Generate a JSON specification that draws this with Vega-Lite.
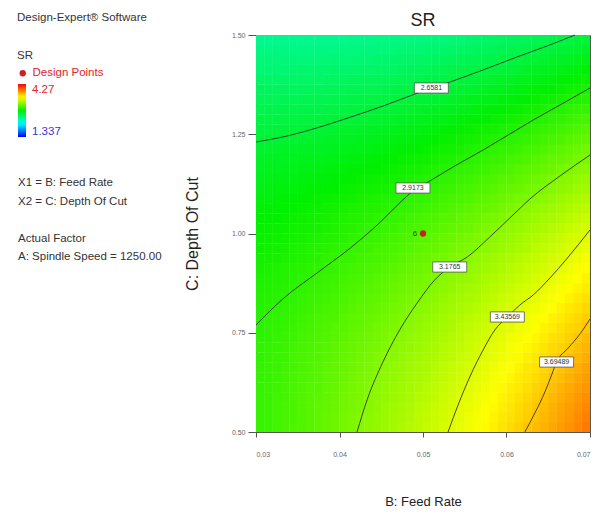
{
  "$schema": "https://vega.github.io/schema/vega-lite/v6.json",
  "width": 334,
  "height": 397,
  "autosize": {"type": "none"},
  "padding": {"left": 256, "top": 35, "right": 23, "bottom": 84},
  "background": "white",
  "config": {
    "font": "Liberation Sans",
    "view": {"stroke": "#555555", "strokeWidth": 1},
    "axis": {
      "grid": false,
      "labelFont": "Liberation Sans",
      "titleFont": "Liberation Sans",
      "labelFontSize": 7,
      "labelColor": "#666666",
      "domainColor": "#555555",
      "tickColor": "#555555",
      "titleFontWeight": "normal",
      "titleColor": "#222222"
    },
    "legend": {"padding": 0, "labelFont": "Liberation Sans", "titleFont": "Liberation Sans"}
  },
  "title": {
    "text": "SR",
    "fontSize": 18,
    "fontWeight": "normal",
    "font": "Liberation Sans",
    "color": "#222222",
    "offset": 6,
    "dy": 24,
    "anchor": "middle",
    "frame": "group"
  },
  "datasets": {
    "grid": [
{"x":0.0305,"y":0.5125,"v":2.96},{"x":0.0315,"y":0.5125,"v":2.97},{"x":0.0325,"y":0.5125,"v":2.99},{"x":0.0335,"y":0.5125,"v":3.01},{"x":0.0345,"y":0.5125,"v":3.03},{"x":0.0355,"y":0.5125,"v":3.04},{"x":0.0365,"y":0.5125,"v":3.06},{"x":0.0375,"y":0.5125,"v":3.08},{"x":0.0385,"y":0.5125,"v":3.10},{"x":0.0395,"y":0.5125,"v":3.12},{"x":0.0405,"y":0.5125,"v":3.14},{"x":0.0415,"y":0.5125,"v":3.16},{"x":0.0425,"y":0.5125,"v":3.18},{"x":0.0435,"y":0.5125,"v":3.21},{"x":0.0445,"y":0.5125,"v":3.23},{"x":0.0455,"y":0.5125,"v":3.25},{"x":0.0465,"y":0.5125,"v":3.27},{"x":0.0475,"y":0.5125,"v":3.30},{"x":0.0485,"y":0.5125,"v":3.32},{"x":0.0495,"y":0.5125,"v":3.34},{"x":0.0505,"y":0.5125,"v":3.37},{"x":0.0515,"y":0.5125,"v":3.39},{"x":0.0525,"y":0.5125,"v":3.42},{"x":0.0535,"y":0.5125,"v":3.44},{"x":0.0545,"y":0.5125,"v":3.47},{"x":0.0555,"y":0.5125,"v":3.50},{"x":0.0565,"y":0.5125,"v":3.52},{"x":0.0575,"y":0.5125,"v":3.55},{"x":0.0585,"y":0.5125,"v":3.58},{"x":0.0595,"y":0.5125,"v":3.61},{"x":0.0605,"y":0.5125,"v":3.64},{"x":0.0615,"y":0.5125,"v":3.67},{"x":0.0625,"y":0.5125,"v":3.70},{"x":0.0635,"y":0.5125,"v":3.73},{"x":0.0645,"y":0.5125,"v":3.76},{"x":0.0655,"y":0.5125,"v":3.79},{"x":0.0665,"y":0.5125,"v":3.82},{"x":0.0675,"y":0.5125,"v":3.85},{"x":0.0685,"y":0.5125,"v":3.88},{"x":0.0695,"y":0.5125,"v":3.92},
{"x":0.0305,"y":0.5375,"v":2.96},{"x":0.0315,"y":0.5375,"v":2.97},{"x":0.0325,"y":0.5375,"v":2.99},{"x":0.0335,"y":0.5375,"v":3.01},{"x":0.0345,"y":0.5375,"v":3.02},{"x":0.0355,"y":0.5375,"v":3.04},{"x":0.0365,"y":0.5375,"v":3.06},{"x":0.0375,"y":0.5375,"v":3.08},{"x":0.0385,"y":0.5375,"v":3.10},{"x":0.0395,"y":0.5375,"v":3.12},{"x":0.0405,"y":0.5375,"v":3.14},{"x":0.0415,"y":0.5375,"v":3.16},{"x":0.0425,"y":0.5375,"v":3.18},{"x":0.0435,"y":0.5375,"v":3.20},{"x":0.0445,"y":0.5375,"v":3.22},{"x":0.0455,"y":0.5375,"v":3.24},{"x":0.0465,"y":0.5375,"v":3.27},{"x":0.0475,"y":0.5375,"v":3.29},{"x":0.0485,"y":0.5375,"v":3.31},{"x":0.0495,"y":0.5375,"v":3.34},{"x":0.0505,"y":0.5375,"v":3.36},{"x":0.0515,"y":0.5375,"v":3.38},{"x":0.0525,"y":0.5375,"v":3.41},{"x":0.0535,"y":0.5375,"v":3.43},{"x":0.0545,"y":0.5375,"v":3.46},{"x":0.0555,"y":0.5375,"v":3.49},{"x":0.0565,"y":0.5375,"v":3.51},{"x":0.0575,"y":0.5375,"v":3.54},{"x":0.0585,"y":0.5375,"v":3.57},{"x":0.0595,"y":0.5375,"v":3.60},{"x":0.0605,"y":0.5375,"v":3.62},{"x":0.0615,"y":0.5375,"v":3.65},{"x":0.0625,"y":0.5375,"v":3.68},{"x":0.0635,"y":0.5375,"v":3.71},{"x":0.0645,"y":0.5375,"v":3.74},{"x":0.0655,"y":0.5375,"v":3.77},{"x":0.0665,"y":0.5375,"v":3.80},{"x":0.0675,"y":0.5375,"v":3.83},{"x":0.0685,"y":0.5375,"v":3.87},{"x":0.0695,"y":0.5375,"v":3.90},
{"x":0.0305,"y":0.5625,"v":2.96},{"x":0.0315,"y":0.5625,"v":2.97},{"x":0.0325,"y":0.5625,"v":2.99},{"x":0.0335,"y":0.5625,"v":3.01},{"x":0.0345,"y":0.5625,"v":3.02},{"x":0.0355,"y":0.5625,"v":3.04},{"x":0.0365,"y":0.5625,"v":3.06},{"x":0.0375,"y":0.5625,"v":3.08},{"x":0.0385,"y":0.5625,"v":3.09},{"x":0.0395,"y":0.5625,"v":3.11},{"x":0.0405,"y":0.5625,"v":3.13},{"x":0.0415,"y":0.5625,"v":3.15},{"x":0.0425,"y":0.5625,"v":3.17},{"x":0.0435,"y":0.5625,"v":3.19},{"x":0.0445,"y":0.5625,"v":3.21},{"x":0.0455,"y":0.5625,"v":3.24},{"x":0.0465,"y":0.5625,"v":3.26},{"x":0.0475,"y":0.5625,"v":3.28},{"x":0.0485,"y":0.5625,"v":3.30},{"x":0.0495,"y":0.5625,"v":3.33},{"x":0.0505,"y":0.5625,"v":3.35},{"x":0.0515,"y":0.5625,"v":3.37},{"x":0.0525,"y":0.5625,"v":3.40},{"x":0.0535,"y":0.5625,"v":3.42},{"x":0.0545,"y":0.5625,"v":3.45},{"x":0.0555,"y":0.5625,"v":3.47},{"x":0.0565,"y":0.5625,"v":3.50},{"x":0.0575,"y":0.5625,"v":3.53},{"x":0.0585,"y":0.5625,"v":3.55},{"x":0.0595,"y":0.5625,"v":3.58},{"x":0.0605,"y":0.5625,"v":3.61},{"x":0.0615,"y":0.5625,"v":3.64},{"x":0.0625,"y":0.5625,"v":3.67},{"x":0.0635,"y":0.5625,"v":3.70},{"x":0.0645,"y":0.5625,"v":3.73},{"x":0.0655,"y":0.5625,"v":3.76},{"x":0.0665,"y":0.5625,"v":3.79},{"x":0.0675,"y":0.5625,"v":3.82},{"x":0.0685,"y":0.5625,"v":3.85},{"x":0.0695,"y":0.5625,"v":3.88},
{"x":0.0305,"y":0.5875,"v":2.96},{"x":0.0315,"y":0.5875,"v":2.97},{"x":0.0325,"y":0.5875,"v":2.99},{"x":0.0335,"y":0.5875,"v":3.00},{"x":0.0345,"y":0.5875,"v":3.02},{"x":0.0355,"y":0.5875,"v":3.04},{"x":0.0365,"y":0.5875,"v":3.05},{"x":0.0375,"y":0.5875,"v":3.07},{"x":0.0385,"y":0.5875,"v":3.09},{"x":0.0395,"y":0.5875,"v":3.11},{"x":0.0405,"y":0.5875,"v":3.13},{"x":0.0415,"y":0.5875,"v":3.15},{"x":0.0425,"y":0.5875,"v":3.16},{"x":0.0435,"y":0.5875,"v":3.19},{"x":0.0445,"y":0.5875,"v":3.21},{"x":0.0455,"y":0.5875,"v":3.23},{"x":0.0465,"y":0.5875,"v":3.25},{"x":0.0475,"y":0.5875,"v":3.27},{"x":0.0485,"y":0.5875,"v":3.29},{"x":0.0495,"y":0.5875,"v":3.32},{"x":0.0505,"y":0.5875,"v":3.34},{"x":0.0515,"y":0.5875,"v":3.36},{"x":0.0525,"y":0.5875,"v":3.39},{"x":0.0535,"y":0.5875,"v":3.41},{"x":0.0545,"y":0.5875,"v":3.44},{"x":0.0555,"y":0.5875,"v":3.46},{"x":0.0565,"y":0.5875,"v":3.49},{"x":0.0575,"y":0.5875,"v":3.51},{"x":0.0585,"y":0.5875,"v":3.54},{"x":0.0595,"y":0.5875,"v":3.57},{"x":0.0605,"y":0.5875,"v":3.59},{"x":0.0615,"y":0.5875,"v":3.62},{"x":0.0625,"y":0.5875,"v":3.65},{"x":0.0635,"y":0.5875,"v":3.68},{"x":0.0645,"y":0.5875,"v":3.71},{"x":0.0655,"y":0.5875,"v":3.74},{"x":0.0665,"y":0.5875,"v":3.77},{"x":0.0675,"y":0.5875,"v":3.80},{"x":0.0685,"y":0.5875,"v":3.83},{"x":0.0695,"y":0.5875,"v":3.86},
{"x":0.0305,"y":0.6125,"v":2.95},{"x":0.0315,"y":0.6125,"v":2.97},{"x":0.0325,"y":0.6125,"v":2.98},{"x":0.0335,"y":0.6125,"v":3.00},{"x":0.0345,"y":0.6125,"v":3.01},{"x":0.0355,"y":0.6125,"v":3.03},{"x":0.0365,"y":0.6125,"v":3.05},{"x":0.0375,"y":0.6125,"v":3.06},{"x":0.0385,"y":0.6125,"v":3.08},{"x":0.0395,"y":0.6125,"v":3.10},{"x":0.0405,"y":0.6125,"v":3.12},{"x":0.0415,"y":0.6125,"v":3.14},{"x":0.0425,"y":0.6125,"v":3.16},{"x":0.0435,"y":0.6125,"v":3.18},{"x":0.0445,"y":0.6125,"v":3.20},{"x":0.0455,"y":0.6125,"v":3.22},{"x":0.0465,"y":0.6125,"v":3.24},{"x":0.0475,"y":0.6125,"v":3.26},{"x":0.0485,"y":0.6125,"v":3.28},{"x":0.0495,"y":0.6125,"v":3.30},{"x":0.0505,"y":0.6125,"v":3.33},{"x":0.0515,"y":0.6125,"v":3.35},{"x":0.0525,"y":0.6125,"v":3.37},{"x":0.0535,"y":0.6125,"v":3.40},{"x":0.0545,"y":0.6125,"v":3.42},{"x":0.0555,"y":0.6125,"v":3.45},{"x":0.0565,"y":0.6125,"v":3.47},{"x":0.0575,"y":0.6125,"v":3.50},{"x":0.0585,"y":0.6125,"v":3.52},{"x":0.0595,"y":0.6125,"v":3.55},{"x":0.0605,"y":0.6125,"v":3.58},{"x":0.0615,"y":0.6125,"v":3.60},{"x":0.0625,"y":0.6125,"v":3.63},{"x":0.0635,"y":0.6125,"v":3.66},{"x":0.0645,"y":0.6125,"v":3.69},{"x":0.0655,"y":0.6125,"v":3.72},{"x":0.0665,"y":0.6125,"v":3.75},{"x":0.0675,"y":0.6125,"v":3.78},{"x":0.0685,"y":0.6125,"v":3.81},{"x":0.0695,"y":0.6125,"v":3.84},
{"x":0.0305,"y":0.6375,"v":2.95},{"x":0.0315,"y":0.6375,"v":2.96},{"x":0.0325,"y":0.6375,"v":2.98},{"x":0.0335,"y":0.6375,"v":2.99},{"x":0.0345,"y":0.6375,"v":3.01},{"x":0.0355,"y":0.6375,"v":3.03},{"x":0.0365,"y":0.6375,"v":3.04},{"x":0.0375,"y":0.6375,"v":3.06},{"x":0.0385,"y":0.6375,"v":3.08},{"x":0.0395,"y":0.6375,"v":3.09},{"x":0.0405,"y":0.6375,"v":3.11},{"x":0.0415,"y":0.6375,"v":3.13},{"x":0.0425,"y":0.6375,"v":3.15},{"x":0.0435,"y":0.6375,"v":3.17},{"x":0.0445,"y":0.6375,"v":3.19},{"x":0.0455,"y":0.6375,"v":3.21},{"x":0.0465,"y":0.6375,"v":3.23},{"x":0.0475,"y":0.6375,"v":3.25},{"x":0.0485,"y":0.6375,"v":3.27},{"x":0.0495,"y":0.6375,"v":3.29},{"x":0.0505,"y":0.6375,"v":3.31},{"x":0.0515,"y":0.6375,"v":3.34},{"x":0.0525,"y":0.6375,"v":3.36},{"x":0.0535,"y":0.6375,"v":3.38},{"x":0.0545,"y":0.6375,"v":3.41},{"x":0.0555,"y":0.6375,"v":3.43},{"x":0.0565,"y":0.6375,"v":3.46},{"x":0.0575,"y":0.6375,"v":3.48},{"x":0.0585,"y":0.6375,"v":3.51},{"x":0.0595,"y":0.6375,"v":3.53},{"x":0.0605,"y":0.6375,"v":3.56},{"x":0.0615,"y":0.6375,"v":3.59},{"x":0.0625,"y":0.6375,"v":3.61},{"x":0.0635,"y":0.6375,"v":3.64},{"x":0.0645,"y":0.6375,"v":3.67},{"x":0.0655,"y":0.6375,"v":3.70},{"x":0.0665,"y":0.6375,"v":3.73},{"x":0.0675,"y":0.6375,"v":3.76},{"x":0.0685,"y":0.6375,"v":3.79},{"x":0.0695,"y":0.6375,"v":3.82},
{"x":0.0305,"y":0.6625,"v":2.95},{"x":0.0315,"y":0.6625,"v":2.96},{"x":0.0325,"y":0.6625,"v":2.97},{"x":0.0335,"y":0.6625,"v":2.99},{"x":0.0345,"y":0.6625,"v":3.00},{"x":0.0355,"y":0.6625,"v":3.02},{"x":0.0365,"y":0.6625,"v":3.04},{"x":0.0375,"y":0.6625,"v":3.05},{"x":0.0385,"y":0.6625,"v":3.07},{"x":0.0395,"y":0.6625,"v":3.09},{"x":0.0405,"y":0.6625,"v":3.10},{"x":0.0415,"y":0.6625,"v":3.12},{"x":0.0425,"y":0.6625,"v":3.14},{"x":0.0435,"y":0.6625,"v":3.16},{"x":0.0445,"y":0.6625,"v":3.18},{"x":0.0455,"y":0.6625,"v":3.20},{"x":0.0465,"y":0.6625,"v":3.22},{"x":0.0475,"y":0.6625,"v":3.24},{"x":0.0485,"y":0.6625,"v":3.26},{"x":0.0495,"y":0.6625,"v":3.28},{"x":0.0505,"y":0.6625,"v":3.30},{"x":0.0515,"y":0.6625,"v":3.32},{"x":0.0525,"y":0.6625,"v":3.35},{"x":0.0535,"y":0.6625,"v":3.37},{"x":0.0545,"y":0.6625,"v":3.39},{"x":0.0555,"y":0.6625,"v":3.42},{"x":0.0565,"y":0.6625,"v":3.44},{"x":0.0575,"y":0.6625,"v":3.47},{"x":0.0585,"y":0.6625,"v":3.49},{"x":0.0595,"y":0.6625,"v":3.52},{"x":0.0605,"y":0.6625,"v":3.54},{"x":0.0615,"y":0.6625,"v":3.57},{"x":0.0625,"y":0.6625,"v":3.60},{"x":0.0635,"y":0.6625,"v":3.62},{"x":0.0645,"y":0.6625,"v":3.65},{"x":0.0655,"y":0.6625,"v":3.68},{"x":0.0665,"y":0.6625,"v":3.71},{"x":0.0675,"y":0.6625,"v":3.74},{"x":0.0685,"y":0.6625,"v":3.77},{"x":0.0695,"y":0.6625,"v":3.80},
{"x":0.0305,"y":0.6875,"v":2.94},{"x":0.0315,"y":0.6875,"v":2.96},{"x":0.0325,"y":0.6875,"v":2.97},{"x":0.0335,"y":0.6875,"v":2.98},{"x":0.0345,"y":0.6875,"v":3.00},{"x":0.0355,"y":0.6875,"v":3.01},{"x":0.0365,"y":0.6875,"v":3.03},{"x":0.0375,"y":0.6875,"v":3.04},{"x":0.0385,"y":0.6875,"v":3.06},{"x":0.0395,"y":0.6875,"v":3.08},{"x":0.0405,"y":0.6875,"v":3.09},{"x":0.0415,"y":0.6875,"v":3.11},{"x":0.0425,"y":0.6875,"v":3.13},{"x":0.0435,"y":0.6875,"v":3.15},{"x":0.0445,"y":0.6875,"v":3.17},{"x":0.0455,"y":0.6875,"v":3.19},{"x":0.0465,"y":0.6875,"v":3.20},{"x":0.0475,"y":0.6875,"v":3.22},{"x":0.0485,"y":0.6875,"v":3.25},{"x":0.0495,"y":0.6875,"v":3.27},{"x":0.0505,"y":0.6875,"v":3.29},{"x":0.0515,"y":0.6875,"v":3.31},{"x":0.0525,"y":0.6875,"v":3.33},{"x":0.0535,"y":0.6875,"v":3.35},{"x":0.0545,"y":0.6875,"v":3.38},{"x":0.0555,"y":0.6875,"v":3.40},{"x":0.0565,"y":0.6875,"v":3.42},{"x":0.0575,"y":0.6875,"v":3.45},{"x":0.0585,"y":0.6875,"v":3.47},{"x":0.0595,"y":0.6875,"v":3.50},{"x":0.0605,"y":0.6875,"v":3.52},{"x":0.0615,"y":0.6875,"v":3.55},{"x":0.0625,"y":0.6875,"v":3.58},{"x":0.0635,"y":0.6875,"v":3.60},{"x":0.0645,"y":0.6875,"v":3.63},{"x":0.0655,"y":0.6875,"v":3.66},{"x":0.0665,"y":0.6875,"v":3.69},{"x":0.0675,"y":0.6875,"v":3.72},{"x":0.0685,"y":0.6875,"v":3.74},{"x":0.0695,"y":0.6875,"v":3.77},
{"x":0.0305,"y":0.7125,"v":2.94},{"x":0.0315,"y":0.7125,"v":2.95},{"x":0.0325,"y":0.7125,"v":2.96},{"x":0.0335,"y":0.7125,"v":2.98},{"x":0.0345,"y":0.7125,"v":2.99},{"x":0.0355,"y":0.7125,"v":3.01},{"x":0.0365,"y":0.7125,"v":3.02},{"x":0.0375,"y":0.7125,"v":3.04},{"x":0.0385,"y":0.7125,"v":3.05},{"x":0.0395,"y":0.7125,"v":3.07},{"x":0.0405,"y":0.7125,"v":3.08},{"x":0.0415,"y":0.7125,"v":3.10},{"x":0.0425,"y":0.7125,"v":3.12},{"x":0.0435,"y":0.7125,"v":3.14},{"x":0.0445,"y":0.7125,"v":3.15},{"x":0.0455,"y":0.7125,"v":3.17},{"x":0.0465,"y":0.7125,"v":3.19},{"x":0.0475,"y":0.7125,"v":3.21},{"x":0.0485,"y":0.7125,"v":3.23},{"x":0.0495,"y":0.7125,"v":3.25},{"x":0.0505,"y":0.7125,"v":3.27},{"x":0.0515,"y":0.7125,"v":3.29},{"x":0.0525,"y":0.7125,"v":3.32},{"x":0.0535,"y":0.7125,"v":3.34},{"x":0.0545,"y":0.7125,"v":3.36},{"x":0.0555,"y":0.7125,"v":3.38},{"x":0.0565,"y":0.7125,"v":3.41},{"x":0.0575,"y":0.7125,"v":3.43},{"x":0.0585,"y":0.7125,"v":3.46},{"x":0.0595,"y":0.7125,"v":3.48},{"x":0.0605,"y":0.7125,"v":3.51},{"x":0.0615,"y":0.7125,"v":3.53},{"x":0.0625,"y":0.7125,"v":3.56},{"x":0.0635,"y":0.7125,"v":3.58},{"x":0.0645,"y":0.7125,"v":3.61},{"x":0.0655,"y":0.7125,"v":3.64},{"x":0.0665,"y":0.7125,"v":3.66},{"x":0.0675,"y":0.7125,"v":3.69},{"x":0.0685,"y":0.7125,"v":3.72},{"x":0.0695,"y":0.7125,"v":3.75},
{"x":0.0305,"y":0.7375,"v":2.93},{"x":0.0315,"y":0.7375,"v":2.94},{"x":0.0325,"y":0.7375,"v":2.96},{"x":0.0335,"y":0.7375,"v":2.97},{"x":0.0345,"y":0.7375,"v":2.98},{"x":0.0355,"y":0.7375,"v":3.00},{"x":0.0365,"y":0.7375,"v":3.01},{"x":0.0375,"y":0.7375,"v":3.03},{"x":0.0385,"y":0.7375,"v":3.04},{"x":0.0395,"y":0.7375,"v":3.06},{"x":0.0405,"y":0.7375,"v":3.07},{"x":0.0415,"y":0.7375,"v":3.09},{"x":0.0425,"y":0.7375,"v":3.11},{"x":0.0435,"y":0.7375,"v":3.12},{"x":0.0445,"y":0.7375,"v":3.14},{"x":0.0455,"y":0.7375,"v":3.16},{"x":0.0465,"y":0.7375,"v":3.18},{"x":0.0475,"y":0.7375,"v":3.20},{"x":0.0485,"y":0.7375,"v":3.22},{"x":0.0495,"y":0.7375,"v":3.24},{"x":0.0505,"y":0.7375,"v":3.26},{"x":0.0515,"y":0.7375,"v":3.28},{"x":0.0525,"y":0.7375,"v":3.30},{"x":0.0535,"y":0.7375,"v":3.32},{"x":0.0545,"y":0.7375,"v":3.34},{"x":0.0555,"y":0.7375,"v":3.37},{"x":0.0565,"y":0.7375,"v":3.39},{"x":0.0575,"y":0.7375,"v":3.41},{"x":0.0585,"y":0.7375,"v":3.44},{"x":0.0595,"y":0.7375,"v":3.46},{"x":0.0605,"y":0.7375,"v":3.49},{"x":0.0615,"y":0.7375,"v":3.51},{"x":0.0625,"y":0.7375,"v":3.54},{"x":0.0635,"y":0.7375,"v":3.56},{"x":0.0645,"y":0.7375,"v":3.59},{"x":0.0655,"y":0.7375,"v":3.62},{"x":0.0665,"y":0.7375,"v":3.64},{"x":0.0675,"y":0.7375,"v":3.67},{"x":0.0685,"y":0.7375,"v":3.70},{"x":0.0695,"y":0.7375,"v":3.73},
{"x":0.0305,"y":0.7625,"v":2.92},{"x":0.0315,"y":0.7625,"v":2.94},{"x":0.0325,"y":0.7625,"v":2.95},{"x":0.0335,"y":0.7625,"v":2.96},{"x":0.0345,"y":0.7625,"v":2.97},{"x":0.0355,"y":0.7625,"v":2.99},{"x":0.0365,"y":0.7625,"v":3.00},{"x":0.0375,"y":0.7625,"v":3.02},{"x":0.0385,"y":0.7625,"v":3.03},{"x":0.0395,"y":0.7625,"v":3.05},{"x":0.0405,"y":0.7625,"v":3.06},{"x":0.0415,"y":0.7625,"v":3.08},{"x":0.0425,"y":0.7625,"v":3.09},{"x":0.0435,"y":0.7625,"v":3.11},{"x":0.0445,"y":0.7625,"v":3.13},{"x":0.0455,"y":0.7625,"v":3.15},{"x":0.0465,"y":0.7625,"v":3.16},{"x":0.0475,"y":0.7625,"v":3.18},{"x":0.0485,"y":0.7625,"v":3.20},{"x":0.0495,"y":0.7625,"v":3.22},{"x":0.0505,"y":0.7625,"v":3.24},{"x":0.0515,"y":0.7625,"v":3.26},{"x":0.0525,"y":0.7625,"v":3.28},{"x":0.0535,"y":0.7625,"v":3.30},{"x":0.0545,"y":0.7625,"v":3.33},{"x":0.0555,"y":0.7625,"v":3.35},{"x":0.0565,"y":0.7625,"v":3.37},{"x":0.0575,"y":0.7625,"v":3.39},{"x":0.0585,"y":0.7625,"v":3.42},{"x":0.0595,"y":0.7625,"v":3.44},{"x":0.0605,"y":0.7625,"v":3.46},{"x":0.0615,"y":0.7625,"v":3.49},{"x":0.0625,"y":0.7625,"v":3.51},{"x":0.0635,"y":0.7625,"v":3.54},{"x":0.0645,"y":0.7625,"v":3.57},{"x":0.0655,"y":0.7625,"v":3.59},{"x":0.0665,"y":0.7625,"v":3.62},{"x":0.0675,"y":0.7625,"v":3.65},{"x":0.0685,"y":0.7625,"v":3.67},{"x":0.0695,"y":0.7625,"v":3.70},
{"x":0.0305,"y":0.7875,"v":2.92},{"x":0.0315,"y":0.7875,"v":2.93},{"x":0.0325,"y":0.7875,"v":2.94},{"x":0.0335,"y":0.7875,"v":2.95},{"x":0.0345,"y":0.7875,"v":2.96},{"x":0.0355,"y":0.7875,"v":2.98},{"x":0.0365,"y":0.7875,"v":2.99},{"x":0.0375,"y":0.7875,"v":3.01},{"x":0.0385,"y":0.7875,"v":3.02},{"x":0.0395,"y":0.7875,"v":3.03},{"x":0.0405,"y":0.7875,"v":3.05},{"x":0.0415,"y":0.7875,"v":3.07},{"x":0.0425,"y":0.7875,"v":3.08},{"x":0.0435,"y":0.7875,"v":3.10},{"x":0.0445,"y":0.7875,"v":3.11},{"x":0.0455,"y":0.7875,"v":3.13},{"x":0.0465,"y":0.7875,"v":3.15},{"x":0.0475,"y":0.7875,"v":3.17},{"x":0.0485,"y":0.7875,"v":3.19},{"x":0.0495,"y":0.7875,"v":3.21},{"x":0.0505,"y":0.7875,"v":3.22},{"x":0.0515,"y":0.7875,"v":3.24},{"x":0.0525,"y":0.7875,"v":3.27},{"x":0.0535,"y":0.7875,"v":3.29},{"x":0.0545,"y":0.7875,"v":3.31},{"x":0.0555,"y":0.7875,"v":3.33},{"x":0.0565,"y":0.7875,"v":3.35},{"x":0.0575,"y":0.7875,"v":3.37},{"x":0.0585,"y":0.7875,"v":3.40},{"x":0.0595,"y":0.7875,"v":3.42},{"x":0.0605,"y":0.7875,"v":3.44},{"x":0.0615,"y":0.7875,"v":3.47},{"x":0.0625,"y":0.7875,"v":3.49},{"x":0.0635,"y":0.7875,"v":3.52},{"x":0.0645,"y":0.7875,"v":3.54},{"x":0.0655,"y":0.7875,"v":3.57},{"x":0.0665,"y":0.7875,"v":3.59},{"x":0.0675,"y":0.7875,"v":3.62},{"x":0.0685,"y":0.7875,"v":3.65},{"x":0.0695,"y":0.7875,"v":3.68},
{"x":0.0305,"y":0.8125,"v":2.91},{"x":0.0315,"y":0.8125,"v":2.92},{"x":0.0325,"y":0.8125,"v":2.93},{"x":0.0335,"y":0.8125,"v":2.94},{"x":0.0345,"y":0.8125,"v":2.95},{"x":0.0355,"y":0.8125,"v":2.97},{"x":0.0365,"y":0.8125,"v":2.98},{"x":0.0375,"y":0.8125,"v":2.99},{"x":0.0385,"y":0.8125,"v":3.01},{"x":0.0395,"y":0.8125,"v":3.02},{"x":0.0405,"y":0.8125,"v":3.04},{"x":0.0415,"y":0.8125,"v":3.05},{"x":0.0425,"y":0.8125,"v":3.07},{"x":0.0435,"y":0.8125,"v":3.08},{"x":0.0445,"y":0.8125,"v":3.10},{"x":0.0455,"y":0.8125,"v":3.12},{"x":0.0465,"y":0.8125,"v":3.13},{"x":0.0475,"y":0.8125,"v":3.15},{"x":0.0485,"y":0.8125,"v":3.17},{"x":0.0495,"y":0.8125,"v":3.19},{"x":0.0505,"y":0.8125,"v":3.21},{"x":0.0515,"y":0.8125,"v":3.23},{"x":0.0525,"y":0.8125,"v":3.25},{"x":0.0535,"y":0.8125,"v":3.27},{"x":0.0545,"y":0.8125,"v":3.29},{"x":0.0555,"y":0.8125,"v":3.31},{"x":0.0565,"y":0.8125,"v":3.33},{"x":0.0575,"y":0.8125,"v":3.35},{"x":0.0585,"y":0.8125,"v":3.37},{"x":0.0595,"y":0.8125,"v":3.40},{"x":0.0605,"y":0.8125,"v":3.42},{"x":0.0615,"y":0.8125,"v":3.44},{"x":0.0625,"y":0.8125,"v":3.47},{"x":0.0635,"y":0.8125,"v":3.49},{"x":0.0645,"y":0.8125,"v":3.52},{"x":0.0655,"y":0.8125,"v":3.54},{"x":0.0665,"y":0.8125,"v":3.57},{"x":0.0675,"y":0.8125,"v":3.60},{"x":0.0685,"y":0.8125,"v":3.62},{"x":0.0695,"y":0.8125,"v":3.65},
{"x":0.0305,"y":0.8375,"v":2.90},{"x":0.0315,"y":0.8375,"v":2.91},{"x":0.0325,"y":0.8375,"v":2.92},{"x":0.0335,"y":0.8375,"v":2.93},{"x":0.0345,"y":0.8375,"v":2.94},{"x":0.0355,"y":0.8375,"v":2.96},{"x":0.0365,"y":0.8375,"v":2.97},{"x":0.0375,"y":0.8375,"v":2.98},{"x":0.0385,"y":0.8375,"v":2.99},{"x":0.0395,"y":0.8375,"v":3.01},{"x":0.0405,"y":0.8375,"v":3.02},{"x":0.0415,"y":0.8375,"v":3.04},{"x":0.0425,"y":0.8375,"v":3.05},{"x":0.0435,"y":0.8375,"v":3.07},{"x":0.0445,"y":0.8375,"v":3.08},{"x":0.0455,"y":0.8375,"v":3.10},{"x":0.0465,"y":0.8375,"v":3.12},{"x":0.0475,"y":0.8375,"v":3.13},{"x":0.0485,"y":0.8375,"v":3.15},{"x":0.0495,"y":0.8375,"v":3.17},{"x":0.0505,"y":0.8375,"v":3.19},{"x":0.0515,"y":0.8375,"v":3.21},{"x":0.0525,"y":0.8375,"v":3.23},{"x":0.0535,"y":0.8375,"v":3.25},{"x":0.0545,"y":0.8375,"v":3.27},{"x":0.0555,"y":0.8375,"v":3.29},{"x":0.0565,"y":0.8375,"v":3.31},{"x":0.0575,"y":0.8375,"v":3.33},{"x":0.0585,"y":0.8375,"v":3.35},{"x":0.0595,"y":0.8375,"v":3.38},{"x":0.0605,"y":0.8375,"v":3.40},{"x":0.0615,"y":0.8375,"v":3.42},{"x":0.0625,"y":0.8375,"v":3.44},{"x":0.0635,"y":0.8375,"v":3.47},{"x":0.0645,"y":0.8375,"v":3.49},{"x":0.0655,"y":0.8375,"v":3.52},{"x":0.0665,"y":0.8375,"v":3.54},{"x":0.0675,"y":0.8375,"v":3.57},{"x":0.0685,"y":0.8375,"v":3.60},{"x":0.0695,"y":0.8375,"v":3.62},
{"x":0.0305,"y":0.8625,"v":2.89},{"x":0.0315,"y":0.8625,"v":2.90},{"x":0.0325,"y":0.8625,"v":2.91},{"x":0.0335,"y":0.8625,"v":2.92},{"x":0.0345,"y":0.8625,"v":2.93},{"x":0.0355,"y":0.8625,"v":2.94},{"x":0.0365,"y":0.8625,"v":2.96},{"x":0.0375,"y":0.8625,"v":2.97},{"x":0.0385,"y":0.8625,"v":2.98},{"x":0.0395,"y":0.8625,"v":2.99},{"x":0.0405,"y":0.8625,"v":3.01},{"x":0.0415,"y":0.8625,"v":3.02},{"x":0.0425,"y":0.8625,"v":3.04},{"x":0.0435,"y":0.8625,"v":3.05},{"x":0.0445,"y":0.8625,"v":3.07},{"x":0.0455,"y":0.8625,"v":3.08},{"x":0.0465,"y":0.8625,"v":3.10},{"x":0.0475,"y":0.8625,"v":3.12},{"x":0.0485,"y":0.8625,"v":3.13},{"x":0.0495,"y":0.8625,"v":3.15},{"x":0.0505,"y":0.8625,"v":3.17},{"x":0.0515,"y":0.8625,"v":3.19},{"x":0.0525,"y":0.8625,"v":3.21},{"x":0.0535,"y":0.8625,"v":3.23},{"x":0.0545,"y":0.8625,"v":3.25},{"x":0.0555,"y":0.8625,"v":3.27},{"x":0.0565,"y":0.8625,"v":3.29},{"x":0.0575,"y":0.8625,"v":3.31},{"x":0.0585,"y":0.8625,"v":3.33},{"x":0.0595,"y":0.8625,"v":3.35},{"x":0.0605,"y":0.8625,"v":3.37},{"x":0.0615,"y":0.8625,"v":3.40},{"x":0.0625,"y":0.8625,"v":3.42},{"x":0.0635,"y":0.8625,"v":3.44},{"x":0.0645,"y":0.8625,"v":3.47},{"x":0.0655,"y":0.8625,"v":3.49},{"x":0.0665,"y":0.8625,"v":3.52},{"x":0.0675,"y":0.8625,"v":3.54},{"x":0.0685,"y":0.8625,"v":3.57},{"x":0.0695,"y":0.8625,"v":3.59},
{"x":0.0305,"y":0.8875,"v":2.88},{"x":0.0315,"y":0.8875,"v":2.89},{"x":0.0325,"y":0.8875,"v":2.90},{"x":0.0335,"y":0.8875,"v":2.91},{"x":0.0345,"y":0.8875,"v":2.92},{"x":0.0355,"y":0.8875,"v":2.93},{"x":0.0365,"y":0.8875,"v":2.94},{"x":0.0375,"y":0.8875,"v":2.95},{"x":0.0385,"y":0.8875,"v":2.97},{"x":0.0395,"y":0.8875,"v":2.98},{"x":0.0405,"y":0.8875,"v":2.99},{"x":0.0415,"y":0.8875,"v":3.01},{"x":0.0425,"y":0.8875,"v":3.02},{"x":0.0435,"y":0.8875,"v":3.04},{"x":0.0445,"y":0.8875,"v":3.05},{"x":0.0455,"y":0.8875,"v":3.07},{"x":0.0465,"y":0.8875,"v":3.08},{"x":0.0475,"y":0.8875,"v":3.10},{"x":0.0485,"y":0.8875,"v":3.12},{"x":0.0495,"y":0.8875,"v":3.13},{"x":0.0505,"y":0.8875,"v":3.15},{"x":0.0515,"y":0.8875,"v":3.17},{"x":0.0525,"y":0.8875,"v":3.19},{"x":0.0535,"y":0.8875,"v":3.21},{"x":0.0545,"y":0.8875,"v":3.22},{"x":0.0555,"y":0.8875,"v":3.24},{"x":0.0565,"y":0.8875,"v":3.26},{"x":0.0575,"y":0.8875,"v":3.29},{"x":0.0585,"y":0.8875,"v":3.31},{"x":0.0595,"y":0.8875,"v":3.33},{"x":0.0605,"y":0.8875,"v":3.35},{"x":0.0615,"y":0.8875,"v":3.37},{"x":0.0625,"y":0.8875,"v":3.39},{"x":0.0635,"y":0.8875,"v":3.42},{"x":0.0645,"y":0.8875,"v":3.44},{"x":0.0655,"y":0.8875,"v":3.47},{"x":0.0665,"y":0.8875,"v":3.49},{"x":0.0675,"y":0.8875,"v":3.51},{"x":0.0685,"y":0.8875,"v":3.54},{"x":0.0695,"y":0.8875,"v":3.57},
{"x":0.0305,"y":0.9125,"v":2.87},{"x":0.0315,"y":0.9125,"v":2.88},{"x":0.0325,"y":0.9125,"v":2.89},{"x":0.0335,"y":0.9125,"v":2.90},{"x":0.0345,"y":0.9125,"v":2.91},{"x":0.0355,"y":0.9125,"v":2.92},{"x":0.0365,"y":0.9125,"v":2.93},{"x":0.0375,"y":0.9125,"v":2.94},{"x":0.0385,"y":0.9125,"v":2.95},{"x":0.0395,"y":0.9125,"v":2.96},{"x":0.0405,"y":0.9125,"v":2.98},{"x":0.0415,"y":0.9125,"v":2.99},{"x":0.0425,"y":0.9125,"v":3.00},{"x":0.0435,"y":0.9125,"v":3.02},{"x":0.0445,"y":0.9125,"v":3.03},{"x":0.0455,"y":0.9125,"v":3.05},{"x":0.0465,"y":0.9125,"v":3.06},{"x":0.0475,"y":0.9125,"v":3.08},{"x":0.0485,"y":0.9125,"v":3.10},{"x":0.0495,"y":0.9125,"v":3.11},{"x":0.0505,"y":0.9125,"v":3.13},{"x":0.0515,"y":0.9125,"v":3.15},{"x":0.0525,"y":0.9125,"v":3.17},{"x":0.0535,"y":0.9125,"v":3.18},{"x":0.0545,"y":0.9125,"v":3.20},{"x":0.0555,"y":0.9125,"v":3.22},{"x":0.0565,"y":0.9125,"v":3.24},{"x":0.0575,"y":0.9125,"v":3.26},{"x":0.0585,"y":0.9125,"v":3.28},{"x":0.0595,"y":0.9125,"v":3.30},{"x":0.0605,"y":0.9125,"v":3.32},{"x":0.0615,"y":0.9125,"v":3.35},{"x":0.0625,"y":0.9125,"v":3.37},{"x":0.0635,"y":0.9125,"v":3.39},{"x":0.0645,"y":0.9125,"v":3.41},{"x":0.0655,"y":0.9125,"v":3.44},{"x":0.0665,"y":0.9125,"v":3.46},{"x":0.0675,"y":0.9125,"v":3.49},{"x":0.0685,"y":0.9125,"v":3.51},{"x":0.0695,"y":0.9125,"v":3.54},
{"x":0.0305,"y":0.9375,"v":2.86},{"x":0.0315,"y":0.9375,"v":2.86},{"x":0.0325,"y":0.9375,"v":2.87},{"x":0.0335,"y":0.9375,"v":2.88},{"x":0.0345,"y":0.9375,"v":2.89},{"x":0.0355,"y":0.9375,"v":2.90},{"x":0.0365,"y":0.9375,"v":2.91},{"x":0.0375,"y":0.9375,"v":2.92},{"x":0.0385,"y":0.9375,"v":2.94},{"x":0.0395,"y":0.9375,"v":2.95},{"x":0.0405,"y":0.9375,"v":2.96},{"x":0.0415,"y":0.9375,"v":2.97},{"x":0.0425,"y":0.9375,"v":2.99},{"x":0.0435,"y":0.9375,"v":3.00},{"x":0.0445,"y":0.9375,"v":3.01},{"x":0.0455,"y":0.9375,"v":3.03},{"x":0.0465,"y":0.9375,"v":3.04},{"x":0.0475,"y":0.9375,"v":3.06},{"x":0.0485,"y":0.9375,"v":3.08},{"x":0.0495,"y":0.9375,"v":3.09},{"x":0.0505,"y":0.9375,"v":3.11},{"x":0.0515,"y":0.9375,"v":3.13},{"x":0.0525,"y":0.9375,"v":3.14},{"x":0.0535,"y":0.9375,"v":3.16},{"x":0.0545,"y":0.9375,"v":3.18},{"x":0.0555,"y":0.9375,"v":3.20},{"x":0.0565,"y":0.9375,"v":3.22},{"x":0.0575,"y":0.9375,"v":3.24},{"x":0.0585,"y":0.9375,"v":3.26},{"x":0.0595,"y":0.9375,"v":3.28},{"x":0.0605,"y":0.9375,"v":3.30},{"x":0.0615,"y":0.9375,"v":3.32},{"x":0.0625,"y":0.9375,"v":3.34},{"x":0.0635,"y":0.9375,"v":3.36},{"x":0.0645,"y":0.9375,"v":3.39},{"x":0.0655,"y":0.9375,"v":3.41},{"x":0.0665,"y":0.9375,"v":3.43},{"x":0.0675,"y":0.9375,"v":3.46},{"x":0.0685,"y":0.9375,"v":3.48},{"x":0.0695,"y":0.9375,"v":3.51},
{"x":0.0305,"y":0.9625,"v":2.84},{"x":0.0315,"y":0.9625,"v":2.85},{"x":0.0325,"y":0.9625,"v":2.86},{"x":0.0335,"y":0.9625,"v":2.87},{"x":0.0345,"y":0.9625,"v":2.88},{"x":0.0355,"y":0.9625,"v":2.89},{"x":0.0365,"y":0.9625,"v":2.90},{"x":0.0375,"y":0.9625,"v":2.91},{"x":0.0385,"y":0.9625,"v":2.92},{"x":0.0395,"y":0.9625,"v":2.93},{"x":0.0405,"y":0.9625,"v":2.94},{"x":0.0415,"y":0.9625,"v":2.96},{"x":0.0425,"y":0.9625,"v":2.97},{"x":0.0435,"y":0.9625,"v":2.98},{"x":0.0445,"y":0.9625,"v":3.00},{"x":0.0455,"y":0.9625,"v":3.01},{"x":0.0465,"y":0.9625,"v":3.02},{"x":0.0475,"y":0.9625,"v":3.04},{"x":0.0485,"y":0.9625,"v":3.05},{"x":0.0495,"y":0.9625,"v":3.07},{"x":0.0505,"y":0.9625,"v":3.09},{"x":0.0515,"y":0.9625,"v":3.10},{"x":0.0525,"y":0.9625,"v":3.12},{"x":0.0535,"y":0.9625,"v":3.14},{"x":0.0545,"y":0.9625,"v":3.16},{"x":0.0555,"y":0.9625,"v":3.17},{"x":0.0565,"y":0.9625,"v":3.19},{"x":0.0575,"y":0.9625,"v":3.21},{"x":0.0585,"y":0.9625,"v":3.23},{"x":0.0595,"y":0.9625,"v":3.25},{"x":0.0605,"y":0.9625,"v":3.27},{"x":0.0615,"y":0.9625,"v":3.29},{"x":0.0625,"y":0.9625,"v":3.31},{"x":0.0635,"y":0.9625,"v":3.34},{"x":0.0645,"y":0.9625,"v":3.36},{"x":0.0655,"y":0.9625,"v":3.38},{"x":0.0665,"y":0.9625,"v":3.40},{"x":0.0675,"y":0.9625,"v":3.43},{"x":0.0685,"y":0.9625,"v":3.45},{"x":0.0695,"y":0.9625,"v":3.48},
{"x":0.0305,"y":0.9875,"v":2.83},{"x":0.0315,"y":0.9875,"v":2.84},{"x":0.0325,"y":0.9875,"v":2.85},{"x":0.0335,"y":0.9875,"v":2.85},{"x":0.0345,"y":0.9875,"v":2.86},{"x":0.0355,"y":0.9875,"v":2.87},{"x":0.0365,"y":0.9875,"v":2.88},{"x":0.0375,"y":0.9875,"v":2.89},{"x":0.0385,"y":0.9875,"v":2.90},{"x":0.0395,"y":0.9875,"v":2.91},{"x":0.0405,"y":0.9875,"v":2.92},{"x":0.0415,"y":0.9875,"v":2.94},{"x":0.0425,"y":0.9875,"v":2.95},{"x":0.0435,"y":0.9875,"v":2.96},{"x":0.0445,"y":0.9875,"v":2.98},{"x":0.0455,"y":0.9875,"v":2.99},{"x":0.0465,"y":0.9875,"v":3.00},{"x":0.0475,"y":0.9875,"v":3.02},{"x":0.0485,"y":0.9875,"v":3.03},{"x":0.0495,"y":0.9875,"v":3.05},{"x":0.0505,"y":0.9875,"v":3.06},{"x":0.0515,"y":0.9875,"v":3.08},{"x":0.0525,"y":0.9875,"v":3.10},{"x":0.0535,"y":0.9875,"v":3.11},{"x":0.0545,"y":0.9875,"v":3.13},{"x":0.0555,"y":0.9875,"v":3.15},{"x":0.0565,"y":0.9875,"v":3.17},{"x":0.0575,"y":0.9875,"v":3.19},{"x":0.0585,"y":0.9875,"v":3.20},{"x":0.0595,"y":0.9875,"v":3.22},{"x":0.0605,"y":0.9875,"v":3.24},{"x":0.0615,"y":0.9875,"v":3.26},{"x":0.0625,"y":0.9875,"v":3.29},{"x":0.0635,"y":0.9875,"v":3.31},{"x":0.0645,"y":0.9875,"v":3.33},{"x":0.0655,"y":0.9875,"v":3.35},{"x":0.0665,"y":0.9875,"v":3.37},{"x":0.0675,"y":0.9875,"v":3.40},{"x":0.0685,"y":0.9875,"v":3.42},{"x":0.0695,"y":0.9875,"v":3.44},
{"x":0.0305,"y":1.0125,"v":2.82},{"x":0.0315,"y":1.0125,"v":2.82},{"x":0.0325,"y":1.0125,"v":2.83},{"x":0.0335,"y":1.0125,"v":2.84},{"x":0.0345,"y":1.0125,"v":2.85},{"x":0.0355,"y":1.0125,"v":2.86},{"x":0.0365,"y":1.0125,"v":2.86},{"x":0.0375,"y":1.0125,"v":2.87},{"x":0.0385,"y":1.0125,"v":2.88},{"x":0.0395,"y":1.0125,"v":2.90},{"x":0.0405,"y":1.0125,"v":2.91},{"x":0.0415,"y":1.0125,"v":2.92},{"x":0.0425,"y":1.0125,"v":2.93},{"x":0.0435,"y":1.0125,"v":2.94},{"x":0.0445,"y":1.0125,"v":2.95},{"x":0.0455,"y":1.0125,"v":2.97},{"x":0.0465,"y":1.0125,"v":2.98},{"x":0.0475,"y":1.0125,"v":3.00},{"x":0.0485,"y":1.0125,"v":3.01},{"x":0.0495,"y":1.0125,"v":3.02},{"x":0.0505,"y":1.0125,"v":3.04},{"x":0.0515,"y":1.0125,"v":3.06},{"x":0.0525,"y":1.0125,"v":3.07},{"x":0.0535,"y":1.0125,"v":3.09},{"x":0.0545,"y":1.0125,"v":3.11},{"x":0.0555,"y":1.0125,"v":3.12},{"x":0.0565,"y":1.0125,"v":3.14},{"x":0.0575,"y":1.0125,"v":3.16},{"x":0.0585,"y":1.0125,"v":3.18},{"x":0.0595,"y":1.0125,"v":3.20},{"x":0.0605,"y":1.0125,"v":3.22},{"x":0.0615,"y":1.0125,"v":3.24},{"x":0.0625,"y":1.0125,"v":3.26},{"x":0.0635,"y":1.0125,"v":3.28},{"x":0.0645,"y":1.0125,"v":3.30},{"x":0.0655,"y":1.0125,"v":3.32},{"x":0.0665,"y":1.0125,"v":3.34},{"x":0.0675,"y":1.0125,"v":3.37},{"x":0.0685,"y":1.0125,"v":3.39},{"x":0.0695,"y":1.0125,"v":3.41},
{"x":0.0305,"y":1.0375,"v":2.80},{"x":0.0315,"y":1.0375,"v":2.81},{"x":0.0325,"y":1.0375,"v":2.81},{"x":0.0335,"y":1.0375,"v":2.82},{"x":0.0345,"y":1.0375,"v":2.83},{"x":0.0355,"y":1.0375,"v":2.84},{"x":0.0365,"y":1.0375,"v":2.85},{"x":0.0375,"y":1.0375,"v":2.86},{"x":0.0385,"y":1.0375,"v":2.87},{"x":0.0395,"y":1.0375,"v":2.88},{"x":0.0405,"y":1.0375,"v":2.89},{"x":0.0415,"y":1.0375,"v":2.90},{"x":0.0425,"y":1.0375,"v":2.91},{"x":0.0435,"y":1.0375,"v":2.92},{"x":0.0445,"y":1.0375,"v":2.93},{"x":0.0455,"y":1.0375,"v":2.95},{"x":0.0465,"y":1.0375,"v":2.96},{"x":0.0475,"y":1.0375,"v":2.97},{"x":0.0485,"y":1.0375,"v":2.99},{"x":0.0495,"y":1.0375,"v":3.00},{"x":0.0505,"y":1.0375,"v":3.02},{"x":0.0515,"y":1.0375,"v":3.03},{"x":0.0525,"y":1.0375,"v":3.05},{"x":0.0535,"y":1.0375,"v":3.06},{"x":0.0545,"y":1.0375,"v":3.08},{"x":0.0555,"y":1.0375,"v":3.10},{"x":0.0565,"y":1.0375,"v":3.11},{"x":0.0575,"y":1.0375,"v":3.13},{"x":0.0585,"y":1.0375,"v":3.15},{"x":0.0595,"y":1.0375,"v":3.17},{"x":0.0605,"y":1.0375,"v":3.19},{"x":0.0615,"y":1.0375,"v":3.21},{"x":0.0625,"y":1.0375,"v":3.23},{"x":0.0635,"y":1.0375,"v":3.25},{"x":0.0645,"y":1.0375,"v":3.27},{"x":0.0655,"y":1.0375,"v":3.29},{"x":0.0665,"y":1.0375,"v":3.31},{"x":0.0675,"y":1.0375,"v":3.33},{"x":0.0685,"y":1.0375,"v":3.36},{"x":0.0695,"y":1.0375,"v":3.38},
{"x":0.0305,"y":1.0625,"v":2.78},{"x":0.0315,"y":1.0625,"v":2.79},{"x":0.0325,"y":1.0625,"v":2.80},{"x":0.0335,"y":1.0625,"v":2.80},{"x":0.0345,"y":1.0625,"v":2.81},{"x":0.0355,"y":1.0625,"v":2.82},{"x":0.0365,"y":1.0625,"v":2.83},{"x":0.0375,"y":1.0625,"v":2.84},{"x":0.0385,"y":1.0625,"v":2.85},{"x":0.0395,"y":1.0625,"v":2.86},{"x":0.0405,"y":1.0625,"v":2.87},{"x":0.0415,"y":1.0625,"v":2.88},{"x":0.0425,"y":1.0625,"v":2.89},{"x":0.0435,"y":1.0625,"v":2.90},{"x":0.0445,"y":1.0625,"v":2.91},{"x":0.0455,"y":1.0625,"v":2.92},{"x":0.0465,"y":1.0625,"v":2.94},{"x":0.0475,"y":1.0625,"v":2.95},{"x":0.0485,"y":1.0625,"v":2.96},{"x":0.0495,"y":1.0625,"v":2.98},{"x":0.0505,"y":1.0625,"v":2.99},{"x":0.0515,"y":1.0625,"v":3.00},{"x":0.0525,"y":1.0625,"v":3.02},{"x":0.0535,"y":1.0625,"v":3.04},{"x":0.0545,"y":1.0625,"v":3.05},{"x":0.0555,"y":1.0625,"v":3.07},{"x":0.0565,"y":1.0625,"v":3.09},{"x":0.0575,"y":1.0625,"v":3.10},{"x":0.0585,"y":1.0625,"v":3.12},{"x":0.0595,"y":1.0625,"v":3.14},{"x":0.0605,"y":1.0625,"v":3.16},{"x":0.0615,"y":1.0625,"v":3.18},{"x":0.0625,"y":1.0625,"v":3.20},{"x":0.0635,"y":1.0625,"v":3.22},{"x":0.0645,"y":1.0625,"v":3.24},{"x":0.0655,"y":1.0625,"v":3.26},{"x":0.0665,"y":1.0625,"v":3.28},{"x":0.0675,"y":1.0625,"v":3.30},{"x":0.0685,"y":1.0625,"v":3.32},{"x":0.0695,"y":1.0625,"v":3.34},
{"x":0.0305,"y":1.0875,"v":2.77},{"x":0.0315,"y":1.0875,"v":2.77},{"x":0.0325,"y":1.0875,"v":2.78},{"x":0.0335,"y":1.0875,"v":2.79},{"x":0.0345,"y":1.0875,"v":2.79},{"x":0.0355,"y":1.0875,"v":2.80},{"x":0.0365,"y":1.0875,"v":2.81},{"x":0.0375,"y":1.0875,"v":2.82},{"x":0.0385,"y":1.0875,"v":2.83},{"x":0.0395,"y":1.0875,"v":2.84},{"x":0.0405,"y":1.0875,"v":2.84},{"x":0.0415,"y":1.0875,"v":2.85},{"x":0.0425,"y":1.0875,"v":2.87},{"x":0.0435,"y":1.0875,"v":2.88},{"x":0.0445,"y":1.0875,"v":2.89},{"x":0.0455,"y":1.0875,"v":2.90},{"x":0.0465,"y":1.0875,"v":2.91},{"x":0.0475,"y":1.0875,"v":2.92},{"x":0.0485,"y":1.0875,"v":2.94},{"x":0.0495,"y":1.0875,"v":2.95},{"x":0.0505,"y":1.0875,"v":2.96},{"x":0.0515,"y":1.0875,"v":2.98},{"x":0.0525,"y":1.0875,"v":2.99},{"x":0.0535,"y":1.0875,"v":3.01},{"x":0.0545,"y":1.0875,"v":3.02},{"x":0.0555,"y":1.0875,"v":3.04},{"x":0.0565,"y":1.0875,"v":3.06},{"x":0.0575,"y":1.0875,"v":3.07},{"x":0.0585,"y":1.0875,"v":3.09},{"x":0.0595,"y":1.0875,"v":3.11},{"x":0.0605,"y":1.0875,"v":3.13},{"x":0.0615,"y":1.0875,"v":3.15},{"x":0.0625,"y":1.0875,"v":3.16},{"x":0.0635,"y":1.0875,"v":3.18},{"x":0.0645,"y":1.0875,"v":3.20},{"x":0.0655,"y":1.0875,"v":3.22},{"x":0.0665,"y":1.0875,"v":3.25},{"x":0.0675,"y":1.0875,"v":3.27},{"x":0.0685,"y":1.0875,"v":3.29},{"x":0.0695,"y":1.0875,"v":3.31},
{"x":0.0305,"y":1.1125,"v":2.75},{"x":0.0315,"y":1.1125,"v":2.76},{"x":0.0325,"y":1.1125,"v":2.76},{"x":0.0335,"y":1.1125,"v":2.77},{"x":0.0345,"y":1.1125,"v":2.77},{"x":0.0355,"y":1.1125,"v":2.78},{"x":0.0365,"y":1.1125,"v":2.79},{"x":0.0375,"y":1.1125,"v":2.80},{"x":0.0385,"y":1.1125,"v":2.80},{"x":0.0395,"y":1.1125,"v":2.81},{"x":0.0405,"y":1.1125,"v":2.82},{"x":0.0415,"y":1.1125,"v":2.83},{"x":0.0425,"y":1.1125,"v":2.84},{"x":0.0435,"y":1.1125,"v":2.85},{"x":0.0445,"y":1.1125,"v":2.86},{"x":0.0455,"y":1.1125,"v":2.87},{"x":0.0465,"y":1.1125,"v":2.89},{"x":0.0475,"y":1.1125,"v":2.90},{"x":0.0485,"y":1.1125,"v":2.91},{"x":0.0495,"y":1.1125,"v":2.92},{"x":0.0505,"y":1.1125,"v":2.94},{"x":0.0515,"y":1.1125,"v":2.95},{"x":0.0525,"y":1.1125,"v":2.97},{"x":0.0535,"y":1.1125,"v":2.98},{"x":0.0545,"y":1.1125,"v":3.00},{"x":0.0555,"y":1.1125,"v":3.01},{"x":0.0565,"y":1.1125,"v":3.03},{"x":0.0575,"y":1.1125,"v":3.04},{"x":0.0585,"y":1.1125,"v":3.06},{"x":0.0595,"y":1.1125,"v":3.08},{"x":0.0605,"y":1.1125,"v":3.10},{"x":0.0615,"y":1.1125,"v":3.11},{"x":0.0625,"y":1.1125,"v":3.13},{"x":0.0635,"y":1.1125,"v":3.15},{"x":0.0645,"y":1.1125,"v":3.17},{"x":0.0655,"y":1.1125,"v":3.19},{"x":0.0665,"y":1.1125,"v":3.21},{"x":0.0675,"y":1.1125,"v":3.23},{"x":0.0685,"y":1.1125,"v":3.25},{"x":0.0695,"y":1.1125,"v":3.27},
{"x":0.0305,"y":1.1375,"v":2.73},{"x":0.0315,"y":1.1375,"v":2.74},{"x":0.0325,"y":1.1375,"v":2.74},{"x":0.0335,"y":1.1375,"v":2.75},{"x":0.0345,"y":1.1375,"v":2.75},{"x":0.0355,"y":1.1375,"v":2.76},{"x":0.0365,"y":1.1375,"v":2.77},{"x":0.0375,"y":1.1375,"v":2.78},{"x":0.0385,"y":1.1375,"v":2.78},{"x":0.0395,"y":1.1375,"v":2.79},{"x":0.0405,"y":1.1375,"v":2.80},{"x":0.0415,"y":1.1375,"v":2.81},{"x":0.0425,"y":1.1375,"v":2.82},{"x":0.0435,"y":1.1375,"v":2.83},{"x":0.0445,"y":1.1375,"v":2.84},{"x":0.0455,"y":1.1375,"v":2.85},{"x":0.0465,"y":1.1375,"v":2.86},{"x":0.0475,"y":1.1375,"v":2.87},{"x":0.0485,"y":1.1375,"v":2.88},{"x":0.0495,"y":1.1375,"v":2.90},{"x":0.0505,"y":1.1375,"v":2.91},{"x":0.0515,"y":1.1375,"v":2.92},{"x":0.0525,"y":1.1375,"v":2.94},{"x":0.0535,"y":1.1375,"v":2.95},{"x":0.0545,"y":1.1375,"v":2.97},{"x":0.0555,"y":1.1375,"v":2.98},{"x":0.0565,"y":1.1375,"v":3.00},{"x":0.0575,"y":1.1375,"v":3.01},{"x":0.0585,"y":1.1375,"v":3.03},{"x":0.0595,"y":1.1375,"v":3.05},{"x":0.0605,"y":1.1375,"v":3.06},{"x":0.0615,"y":1.1375,"v":3.08},{"x":0.0625,"y":1.1375,"v":3.10},{"x":0.0635,"y":1.1375,"v":3.12},{"x":0.0645,"y":1.1375,"v":3.14},{"x":0.0655,"y":1.1375,"v":3.16},{"x":0.0665,"y":1.1375,"v":3.18},{"x":0.0675,"y":1.1375,"v":3.20},{"x":0.0685,"y":1.1375,"v":3.22},{"x":0.0695,"y":1.1375,"v":3.24},
{"x":0.0305,"y":1.1625,"v":2.71},{"x":0.0315,"y":1.1625,"v":2.72},{"x":0.0325,"y":1.1625,"v":2.72},{"x":0.0335,"y":1.1625,"v":2.73},{"x":0.0345,"y":1.1625,"v":2.73},{"x":0.0355,"y":1.1625,"v":2.74},{"x":0.0365,"y":1.1625,"v":2.75},{"x":0.0375,"y":1.1625,"v":2.75},{"x":0.0385,"y":1.1625,"v":2.76},{"x":0.0395,"y":1.1625,"v":2.77},{"x":0.0405,"y":1.1625,"v":2.78},{"x":0.0415,"y":1.1625,"v":2.79},{"x":0.0425,"y":1.1625,"v":2.79},{"x":0.0435,"y":1.1625,"v":2.80},{"x":0.0445,"y":1.1625,"v":2.81},{"x":0.0455,"y":1.1625,"v":2.82},{"x":0.0465,"y":1.1625,"v":2.83},{"x":0.0475,"y":1.1625,"v":2.85},{"x":0.0485,"y":1.1625,"v":2.86},{"x":0.0495,"y":1.1625,"v":2.87},{"x":0.0505,"y":1.1625,"v":2.88},{"x":0.0515,"y":1.1625,"v":2.90},{"x":0.0525,"y":1.1625,"v":2.91},{"x":0.0535,"y":1.1625,"v":2.92},{"x":0.0545,"y":1.1625,"v":2.94},{"x":0.0555,"y":1.1625,"v":2.95},{"x":0.0565,"y":1.1625,"v":2.97},{"x":0.0575,"y":1.1625,"v":2.98},{"x":0.0585,"y":1.1625,"v":3.00},{"x":0.0595,"y":1.1625,"v":3.01},{"x":0.0605,"y":1.1625,"v":3.03},{"x":0.0615,"y":1.1625,"v":3.05},{"x":0.0625,"y":1.1625,"v":3.07},{"x":0.0635,"y":1.1625,"v":3.08},{"x":0.0645,"y":1.1625,"v":3.10},{"x":0.0655,"y":1.1625,"v":3.12},{"x":0.0665,"y":1.1625,"v":3.14},{"x":0.0675,"y":1.1625,"v":3.16},{"x":0.0685,"y":1.1625,"v":3.18},{"x":0.0695,"y":1.1625,"v":3.20},
{"x":0.0305,"y":1.1875,"v":2.69},{"x":0.0315,"y":1.1875,"v":2.70},{"x":0.0325,"y":1.1875,"v":2.70},{"x":0.0335,"y":1.1875,"v":2.71},{"x":0.0345,"y":1.1875,"v":2.71},{"x":0.0355,"y":1.1875,"v":2.72},{"x":0.0365,"y":1.1875,"v":2.72},{"x":0.0375,"y":1.1875,"v":2.73},{"x":0.0385,"y":1.1875,"v":2.74},{"x":0.0395,"y":1.1875,"v":2.74},{"x":0.0405,"y":1.1875,"v":2.75},{"x":0.0415,"y":1.1875,"v":2.76},{"x":0.0425,"y":1.1875,"v":2.77},{"x":0.0435,"y":1.1875,"v":2.78},{"x":0.0445,"y":1.1875,"v":2.79},{"x":0.0455,"y":1.1875,"v":2.80},{"x":0.0465,"y":1.1875,"v":2.81},{"x":0.0475,"y":1.1875,"v":2.82},{"x":0.0485,"y":1.1875,"v":2.83},{"x":0.0495,"y":1.1875,"v":2.84},{"x":0.0505,"y":1.1875,"v":2.85},{"x":0.0515,"y":1.1875,"v":2.87},{"x":0.0525,"y":1.1875,"v":2.88},{"x":0.0535,"y":1.1875,"v":2.89},{"x":0.0545,"y":1.1875,"v":2.91},{"x":0.0555,"y":1.1875,"v":2.92},{"x":0.0565,"y":1.1875,"v":2.93},{"x":0.0575,"y":1.1875,"v":2.95},{"x":0.0585,"y":1.1875,"v":2.97},{"x":0.0595,"y":1.1875,"v":2.98},{"x":0.0605,"y":1.1875,"v":3.00},{"x":0.0615,"y":1.1875,"v":3.01},{"x":0.0625,"y":1.1875,"v":3.03},{"x":0.0635,"y":1.1875,"v":3.05},{"x":0.0645,"y":1.1875,"v":3.07},{"x":0.0655,"y":1.1875,"v":3.09},{"x":0.0665,"y":1.1875,"v":3.10},{"x":0.0675,"y":1.1875,"v":3.12},{"x":0.0685,"y":1.1875,"v":3.14},{"x":0.0695,"y":1.1875,"v":3.16},
{"x":0.0305,"y":1.2125,"v":2.67},{"x":0.0315,"y":1.2125,"v":2.68},{"x":0.0325,"y":1.2125,"v":2.68},{"x":0.0335,"y":1.2125,"v":2.69},{"x":0.0345,"y":1.2125,"v":2.69},{"x":0.0355,"y":1.2125,"v":2.70},{"x":0.0365,"y":1.2125,"v":2.70},{"x":0.0375,"y":1.2125,"v":2.71},{"x":0.0385,"y":1.2125,"v":2.71},{"x":0.0395,"y":1.2125,"v":2.72},{"x":0.0405,"y":1.2125,"v":2.73},{"x":0.0415,"y":1.2125,"v":2.74},{"x":0.0425,"y":1.2125,"v":2.74},{"x":0.0435,"y":1.2125,"v":2.75},{"x":0.0445,"y":1.2125,"v":2.76},{"x":0.0455,"y":1.2125,"v":2.77},{"x":0.0465,"y":1.2125,"v":2.78},{"x":0.0475,"y":1.2125,"v":2.79},{"x":0.0485,"y":1.2125,"v":2.80},{"x":0.0495,"y":1.2125,"v":2.81},{"x":0.0505,"y":1.2125,"v":2.82},{"x":0.0515,"y":1.2125,"v":2.84},{"x":0.0525,"y":1.2125,"v":2.85},{"x":0.0535,"y":1.2125,"v":2.86},{"x":0.0545,"y":1.2125,"v":2.87},{"x":0.0555,"y":1.2125,"v":2.89},{"x":0.0565,"y":1.2125,"v":2.90},{"x":0.0575,"y":1.2125,"v":2.92},{"x":0.0585,"y":1.2125,"v":2.93},{"x":0.0595,"y":1.2125,"v":2.95},{"x":0.0605,"y":1.2125,"v":2.96},{"x":0.0615,"y":1.2125,"v":2.98},{"x":0.0625,"y":1.2125,"v":3.00},{"x":0.0635,"y":1.2125,"v":3.01},{"x":0.0645,"y":1.2125,"v":3.03},{"x":0.0655,"y":1.2125,"v":3.05},{"x":0.0665,"y":1.2125,"v":3.07},{"x":0.0675,"y":1.2125,"v":3.09},{"x":0.0685,"y":1.2125,"v":3.11},{"x":0.0695,"y":1.2125,"v":3.13},
{"x":0.0305,"y":1.2375,"v":2.65},{"x":0.0315,"y":1.2375,"v":2.66},{"x":0.0325,"y":1.2375,"v":2.66},{"x":0.0335,"y":1.2375,"v":2.66},{"x":0.0345,"y":1.2375,"v":2.67},{"x":0.0355,"y":1.2375,"v":2.67},{"x":0.0365,"y":1.2375,"v":2.68},{"x":0.0375,"y":1.2375,"v":2.68},{"x":0.0385,"y":1.2375,"v":2.69},{"x":0.0395,"y":1.2375,"v":2.69},{"x":0.0405,"y":1.2375,"v":2.70},{"x":0.0415,"y":1.2375,"v":2.71},{"x":0.0425,"y":1.2375,"v":2.72},{"x":0.0435,"y":1.2375,"v":2.72},{"x":0.0445,"y":1.2375,"v":2.73},{"x":0.0455,"y":1.2375,"v":2.74},{"x":0.0465,"y":1.2375,"v":2.75},{"x":0.0475,"y":1.2375,"v":2.76},{"x":0.0485,"y":1.2375,"v":2.77},{"x":0.0495,"y":1.2375,"v":2.78},{"x":0.0505,"y":1.2375,"v":2.79},{"x":0.0515,"y":1.2375,"v":2.81},{"x":0.0525,"y":1.2375,"v":2.82},{"x":0.0535,"y":1.2375,"v":2.83},{"x":0.0545,"y":1.2375,"v":2.84},{"x":0.0555,"y":1.2375,"v":2.86},{"x":0.0565,"y":1.2375,"v":2.87},{"x":0.0575,"y":1.2375,"v":2.88},{"x":0.0585,"y":1.2375,"v":2.90},{"x":0.0595,"y":1.2375,"v":2.91},{"x":0.0605,"y":1.2375,"v":2.93},{"x":0.0615,"y":1.2375,"v":2.94},{"x":0.0625,"y":1.2375,"v":2.96},{"x":0.0635,"y":1.2375,"v":2.98},{"x":0.0645,"y":1.2375,"v":2.99},{"x":0.0655,"y":1.2375,"v":3.01},{"x":0.0665,"y":1.2375,"v":3.03},{"x":0.0675,"y":1.2375,"v":3.05},{"x":0.0685,"y":1.2375,"v":3.07},{"x":0.0695,"y":1.2375,"v":3.09},
{"x":0.0305,"y":1.2625,"v":2.63},{"x":0.0315,"y":1.2625,"v":2.63},{"x":0.0325,"y":1.2625,"v":2.64},{"x":0.0335,"y":1.2625,"v":2.64},{"x":0.0345,"y":1.2625,"v":2.64},{"x":0.0355,"y":1.2625,"v":2.65},{"x":0.0365,"y":1.2625,"v":2.65},{"x":0.0375,"y":1.2625,"v":2.66},{"x":0.0385,"y":1.2625,"v":2.66},{"x":0.0395,"y":1.2625,"v":2.67},{"x":0.0405,"y":1.2625,"v":2.68},{"x":0.0415,"y":1.2625,"v":2.68},{"x":0.0425,"y":1.2625,"v":2.69},{"x":0.0435,"y":1.2625,"v":2.70},{"x":0.0445,"y":1.2625,"v":2.70},{"x":0.0455,"y":1.2625,"v":2.71},{"x":0.0465,"y":1.2625,"v":2.72},{"x":0.0475,"y":1.2625,"v":2.73},{"x":0.0485,"y":1.2625,"v":2.74},{"x":0.0495,"y":1.2625,"v":2.75},{"x":0.0505,"y":1.2625,"v":2.76},{"x":0.0515,"y":1.2625,"v":2.77},{"x":0.0525,"y":1.2625,"v":2.79},{"x":0.0535,"y":1.2625,"v":2.80},{"x":0.0545,"y":1.2625,"v":2.81},{"x":0.0555,"y":1.2625,"v":2.82},{"x":0.0565,"y":1.2625,"v":2.84},{"x":0.0575,"y":1.2625,"v":2.85},{"x":0.0585,"y":1.2625,"v":2.86},{"x":0.0595,"y":1.2625,"v":2.88},{"x":0.0605,"y":1.2625,"v":2.89},{"x":0.0615,"y":1.2625,"v":2.91},{"x":0.0625,"y":1.2625,"v":2.92},{"x":0.0635,"y":1.2625,"v":2.94},{"x":0.0645,"y":1.2625,"v":2.96},{"x":0.0655,"y":1.2625,"v":2.97},{"x":0.0665,"y":1.2625,"v":2.99},{"x":0.0675,"y":1.2625,"v":3.01},{"x":0.0685,"y":1.2625,"v":3.03},{"x":0.0695,"y":1.2625,"v":3.05},
{"x":0.0305,"y":1.2875,"v":2.61},{"x":0.0315,"y":1.2875,"v":2.61},{"x":0.0325,"y":1.2875,"v":2.61},{"x":0.0335,"y":1.2875,"v":2.62},{"x":0.0345,"y":1.2875,"v":2.62},{"x":0.0355,"y":1.2875,"v":2.62},{"x":0.0365,"y":1.2875,"v":2.63},{"x":0.0375,"y":1.2875,"v":2.63},{"x":0.0385,"y":1.2875,"v":2.64},{"x":0.0395,"y":1.2875,"v":2.64},{"x":0.0405,"y":1.2875,"v":2.65},{"x":0.0415,"y":1.2875,"v":2.65},{"x":0.0425,"y":1.2875,"v":2.66},{"x":0.0435,"y":1.2875,"v":2.67},{"x":0.0445,"y":1.2875,"v":2.68},{"x":0.0455,"y":1.2875,"v":2.68},{"x":0.0465,"y":1.2875,"v":2.69},{"x":0.0475,"y":1.2875,"v":2.70},{"x":0.0485,"y":1.2875,"v":2.71},{"x":0.0495,"y":1.2875,"v":2.72},{"x":0.0505,"y":1.2875,"v":2.73},{"x":0.0515,"y":1.2875,"v":2.74},{"x":0.0525,"y":1.2875,"v":2.75},{"x":0.0535,"y":1.2875,"v":2.76},{"x":0.0545,"y":1.2875,"v":2.78},{"x":0.0555,"y":1.2875,"v":2.79},{"x":0.0565,"y":1.2875,"v":2.80},{"x":0.0575,"y":1.2875,"v":2.81},{"x":0.0585,"y":1.2875,"v":2.83},{"x":0.0595,"y":1.2875,"v":2.84},{"x":0.0605,"y":1.2875,"v":2.86},{"x":0.0615,"y":1.2875,"v":2.87},{"x":0.0625,"y":1.2875,"v":2.89},{"x":0.0635,"y":1.2875,"v":2.90},{"x":0.0645,"y":1.2875,"v":2.92},{"x":0.0655,"y":1.2875,"v":2.93},{"x":0.0665,"y":1.2875,"v":2.95},{"x":0.0675,"y":1.2875,"v":2.97},{"x":0.0685,"y":1.2875,"v":2.99},{"x":0.0695,"y":1.2875,"v":3.01},
{"x":0.0305,"y":1.3125,"v":2.58},{"x":0.0315,"y":1.3125,"v":2.59},{"x":0.0325,"y":1.3125,"v":2.59},{"x":0.0335,"y":1.3125,"v":2.59},{"x":0.0345,"y":1.3125,"v":2.59},{"x":0.0355,"y":1.3125,"v":2.60},{"x":0.0365,"y":1.3125,"v":2.60},{"x":0.0375,"y":1.3125,"v":2.60},{"x":0.0385,"y":1.3125,"v":2.61},{"x":0.0395,"y":1.3125,"v":2.61},{"x":0.0405,"y":1.3125,"v":2.62},{"x":0.0415,"y":1.3125,"v":2.63},{"x":0.0425,"y":1.3125,"v":2.63},{"x":0.0435,"y":1.3125,"v":2.64},{"x":0.0445,"y":1.3125,"v":2.65},{"x":0.0455,"y":1.3125,"v":2.65},{"x":0.0465,"y":1.3125,"v":2.66},{"x":0.0475,"y":1.3125,"v":2.67},{"x":0.0485,"y":1.3125,"v":2.68},{"x":0.0495,"y":1.3125,"v":2.69},{"x":0.0505,"y":1.3125,"v":2.70},{"x":0.0515,"y":1.3125,"v":2.71},{"x":0.0525,"y":1.3125,"v":2.72},{"x":0.0535,"y":1.3125,"v":2.73},{"x":0.0545,"y":1.3125,"v":2.74},{"x":0.0555,"y":1.3125,"v":2.75},{"x":0.0565,"y":1.3125,"v":2.77},{"x":0.0575,"y":1.3125,"v":2.78},{"x":0.0585,"y":1.3125,"v":2.79},{"x":0.0595,"y":1.3125,"v":2.80},{"x":0.0605,"y":1.3125,"v":2.82},{"x":0.0615,"y":1.3125,"v":2.83},{"x":0.0625,"y":1.3125,"v":2.85},{"x":0.0635,"y":1.3125,"v":2.86},{"x":0.0645,"y":1.3125,"v":2.88},{"x":0.0655,"y":1.3125,"v":2.90},{"x":0.0665,"y":1.3125,"v":2.91},{"x":0.0675,"y":1.3125,"v":2.93},{"x":0.0685,"y":1.3125,"v":2.95},{"x":0.0695,"y":1.3125,"v":2.96},
{"x":0.0305,"y":1.3375,"v":2.56},{"x":0.0315,"y":1.3375,"v":2.56},{"x":0.0325,"y":1.3375,"v":2.56},{"x":0.0335,"y":1.3375,"v":2.57},{"x":0.0345,"y":1.3375,"v":2.57},{"x":0.0355,"y":1.3375,"v":2.57},{"x":0.0365,"y":1.3375,"v":2.57},{"x":0.0375,"y":1.3375,"v":2.58},{"x":0.0385,"y":1.3375,"v":2.58},{"x":0.0395,"y":1.3375,"v":2.59},{"x":0.0405,"y":1.3375,"v":2.59},{"x":0.0415,"y":1.3375,"v":2.60},{"x":0.0425,"y":1.3375,"v":2.60},{"x":0.0435,"y":1.3375,"v":2.61},{"x":0.0445,"y":1.3375,"v":2.62},{"x":0.0455,"y":1.3375,"v":2.62},{"x":0.0465,"y":1.3375,"v":2.63},{"x":0.0475,"y":1.3375,"v":2.64},{"x":0.0485,"y":1.3375,"v":2.65},{"x":0.0495,"y":1.3375,"v":2.66},{"x":0.0505,"y":1.3375,"v":2.66},{"x":0.0515,"y":1.3375,"v":2.67},{"x":0.0525,"y":1.3375,"v":2.68},{"x":0.0535,"y":1.3375,"v":2.69},{"x":0.0545,"y":1.3375,"v":2.71},{"x":0.0555,"y":1.3375,"v":2.72},{"x":0.0565,"y":1.3375,"v":2.73},{"x":0.0575,"y":1.3375,"v":2.74},{"x":0.0585,"y":1.3375,"v":2.75},{"x":0.0595,"y":1.3375,"v":2.77},{"x":0.0605,"y":1.3375,"v":2.78},{"x":0.0615,"y":1.3375,"v":2.79},{"x":0.0625,"y":1.3375,"v":2.81},{"x":0.0635,"y":1.3375,"v":2.82},{"x":0.0645,"y":1.3375,"v":2.84},{"x":0.0655,"y":1.3375,"v":2.85},{"x":0.0665,"y":1.3375,"v":2.87},{"x":0.0675,"y":1.3375,"v":2.89},{"x":0.0685,"y":1.3375,"v":2.90},{"x":0.0695,"y":1.3375,"v":2.92},
{"x":0.0305,"y":1.3625,"v":2.54},{"x":0.0315,"y":1.3625,"v":2.54},{"x":0.0325,"y":1.3625,"v":2.54},{"x":0.0335,"y":1.3625,"v":2.54},{"x":0.0345,"y":1.3625,"v":2.54},{"x":0.0355,"y":1.3625,"v":2.54},{"x":0.0365,"y":1.3625,"v":2.55},{"x":0.0375,"y":1.3625,"v":2.55},{"x":0.0385,"y":1.3625,"v":2.55},{"x":0.0395,"y":1.3625,"v":2.56},{"x":0.0405,"y":1.3625,"v":2.56},{"x":0.0415,"y":1.3625,"v":2.57},{"x":0.0425,"y":1.3625,"v":2.57},{"x":0.0435,"y":1.3625,"v":2.58},{"x":0.0445,"y":1.3625,"v":2.58},{"x":0.0455,"y":1.3625,"v":2.59},{"x":0.0465,"y":1.3625,"v":2.60},{"x":0.0475,"y":1.3625,"v":2.61},{"x":0.0485,"y":1.3625,"v":2.61},{"x":0.0495,"y":1.3625,"v":2.62},{"x":0.0505,"y":1.3625,"v":2.63},{"x":0.0515,"y":1.3625,"v":2.64},{"x":0.0525,"y":1.3625,"v":2.65},{"x":0.0535,"y":1.3625,"v":2.66},{"x":0.0545,"y":1.3625,"v":2.67},{"x":0.0555,"y":1.3625,"v":2.68},{"x":0.0565,"y":1.3625,"v":2.69},{"x":0.0575,"y":1.3625,"v":2.70},{"x":0.0585,"y":1.3625,"v":2.72},{"x":0.0595,"y":1.3625,"v":2.73},{"x":0.0605,"y":1.3625,"v":2.74},{"x":0.0615,"y":1.3625,"v":2.76},{"x":0.0625,"y":1.3625,"v":2.77},{"x":0.0635,"y":1.3625,"v":2.78},{"x":0.0645,"y":1.3625,"v":2.80},{"x":0.0655,"y":1.3625,"v":2.81},{"x":0.0665,"y":1.3625,"v":2.83},{"x":0.0675,"y":1.3625,"v":2.85},{"x":0.0685,"y":1.3625,"v":2.86},{"x":0.0695,"y":1.3625,"v":2.88},
{"x":0.0305,"y":1.3875,"v":2.51},{"x":0.0315,"y":1.3875,"v":2.51},{"x":0.0325,"y":1.3875,"v":2.51},{"x":0.0335,"y":1.3875,"v":2.51},{"x":0.0345,"y":1.3875,"v":2.51},{"x":0.0355,"y":1.3875,"v":2.52},{"x":0.0365,"y":1.3875,"v":2.52},{"x":0.0375,"y":1.3875,"v":2.52},{"x":0.0385,"y":1.3875,"v":2.52},{"x":0.0395,"y":1.3875,"v":2.53},{"x":0.0405,"y":1.3875,"v":2.53},{"x":0.0415,"y":1.3875,"v":2.54},{"x":0.0425,"y":1.3875,"v":2.54},{"x":0.0435,"y":1.3875,"v":2.55},{"x":0.0445,"y":1.3875,"v":2.55},{"x":0.0455,"y":1.3875,"v":2.56},{"x":0.0465,"y":1.3875,"v":2.56},{"x":0.0475,"y":1.3875,"v":2.57},{"x":0.0485,"y":1.3875,"v":2.58},{"x":0.0495,"y":1.3875,"v":2.59},{"x":0.0505,"y":1.3875,"v":2.60},{"x":0.0515,"y":1.3875,"v":2.60},{"x":0.0525,"y":1.3875,"v":2.61},{"x":0.0535,"y":1.3875,"v":2.62},{"x":0.0545,"y":1.3875,"v":2.63},{"x":0.0555,"y":1.3875,"v":2.64},{"x":0.0565,"y":1.3875,"v":2.65},{"x":0.0575,"y":1.3875,"v":2.67},{"x":0.0585,"y":1.3875,"v":2.68},{"x":0.0595,"y":1.3875,"v":2.69},{"x":0.0605,"y":1.3875,"v":2.70},{"x":0.0615,"y":1.3875,"v":2.72},{"x":0.0625,"y":1.3875,"v":2.73},{"x":0.0635,"y":1.3875,"v":2.74},{"x":0.0645,"y":1.3875,"v":2.76},{"x":0.0655,"y":1.3875,"v":2.77},{"x":0.0665,"y":1.3875,"v":2.79},{"x":0.0675,"y":1.3875,"v":2.80},{"x":0.0685,"y":1.3875,"v":2.82},{"x":0.0695,"y":1.3875,"v":2.84},
{"x":0.0305,"y":1.4125,"v":2.48},{"x":0.0315,"y":1.4125,"v":2.48},{"x":0.0325,"y":1.4125,"v":2.48},{"x":0.0335,"y":1.4125,"v":2.48},{"x":0.0345,"y":1.4125,"v":2.49},{"x":0.0355,"y":1.4125,"v":2.49},{"x":0.0365,"y":1.4125,"v":2.49},{"x":0.0375,"y":1.4125,"v":2.49},{"x":0.0385,"y":1.4125,"v":2.49},{"x":0.0395,"y":1.4125,"v":2.50},{"x":0.0405,"y":1.4125,"v":2.50},{"x":0.0415,"y":1.4125,"v":2.50},{"x":0.0425,"y":1.4125,"v":2.51},{"x":0.0435,"y":1.4125,"v":2.51},{"x":0.0445,"y":1.4125,"v":2.52},{"x":0.0455,"y":1.4125,"v":2.52},{"x":0.0465,"y":1.4125,"v":2.53},{"x":0.0475,"y":1.4125,"v":2.54},{"x":0.0485,"y":1.4125,"v":2.54},{"x":0.0495,"y":1.4125,"v":2.55},{"x":0.0505,"y":1.4125,"v":2.56},{"x":0.0515,"y":1.4125,"v":2.57},{"x":0.0525,"y":1.4125,"v":2.58},{"x":0.0535,"y":1.4125,"v":2.59},{"x":0.0545,"y":1.4125,"v":2.60},{"x":0.0555,"y":1.4125,"v":2.61},{"x":0.0565,"y":1.4125,"v":2.62},{"x":0.0575,"y":1.4125,"v":2.63},{"x":0.0585,"y":1.4125,"v":2.64},{"x":0.0595,"y":1.4125,"v":2.65},{"x":0.0605,"y":1.4125,"v":2.66},{"x":0.0615,"y":1.4125,"v":2.67},{"x":0.0625,"y":1.4125,"v":2.69},{"x":0.0635,"y":1.4125,"v":2.70},{"x":0.0645,"y":1.4125,"v":2.72},{"x":0.0655,"y":1.4125,"v":2.73},{"x":0.0665,"y":1.4125,"v":2.74},{"x":0.0675,"y":1.4125,"v":2.76},{"x":0.0685,"y":1.4125,"v":2.77},{"x":0.0695,"y":1.4125,"v":2.79},
{"x":0.0305,"y":1.4375,"v":2.46},{"x":0.0315,"y":1.4375,"v":2.46},{"x":0.0325,"y":1.4375,"v":2.46},{"x":0.0335,"y":1.4375,"v":2.46},{"x":0.0345,"y":1.4375,"v":2.46},{"x":0.0355,"y":1.4375,"v":2.46},{"x":0.0365,"y":1.4375,"v":2.46},{"x":0.0375,"y":1.4375,"v":2.46},{"x":0.0385,"y":1.4375,"v":2.46},{"x":0.0395,"y":1.4375,"v":2.47},{"x":0.0405,"y":1.4375,"v":2.47},{"x":0.0415,"y":1.4375,"v":2.47},{"x":0.0425,"y":1.4375,"v":2.48},{"x":0.0435,"y":1.4375,"v":2.48},{"x":0.0445,"y":1.4375,"v":2.49},{"x":0.0455,"y":1.4375,"v":2.49},{"x":0.0465,"y":1.4375,"v":2.50},{"x":0.0475,"y":1.4375,"v":2.50},{"x":0.0485,"y":1.4375,"v":2.51},{"x":0.0495,"y":1.4375,"v":2.52},{"x":0.0505,"y":1.4375,"v":2.52},{"x":0.0515,"y":1.4375,"v":2.53},{"x":0.0525,"y":1.4375,"v":2.54},{"x":0.0535,"y":1.4375,"v":2.55},{"x":0.0545,"y":1.4375,"v":2.56},{"x":0.0555,"y":1.4375,"v":2.57},{"x":0.0565,"y":1.4375,"v":2.58},{"x":0.0575,"y":1.4375,"v":2.59},{"x":0.0585,"y":1.4375,"v":2.60},{"x":0.0595,"y":1.4375,"v":2.61},{"x":0.0605,"y":1.4375,"v":2.62},{"x":0.0615,"y":1.4375,"v":2.63},{"x":0.0625,"y":1.4375,"v":2.65},{"x":0.0635,"y":1.4375,"v":2.66},{"x":0.0645,"y":1.4375,"v":2.67},{"x":0.0655,"y":1.4375,"v":2.69},{"x":0.0665,"y":1.4375,"v":2.70},{"x":0.0675,"y":1.4375,"v":2.71},{"x":0.0685,"y":1.4375,"v":2.73},{"x":0.0695,"y":1.4375,"v":2.75},
{"x":0.0305,"y":1.4625,"v":2.43},{"x":0.0315,"y":1.4625,"v":2.43},{"x":0.0325,"y":1.4625,"v":2.43},{"x":0.0335,"y":1.4625,"v":2.43},{"x":0.0345,"y":1.4625,"v":2.43},{"x":0.0355,"y":1.4625,"v":2.43},{"x":0.0365,"y":1.4625,"v":2.43},{"x":0.0375,"y":1.4625,"v":2.43},{"x":0.0385,"y":1.4625,"v":2.43},{"x":0.0395,"y":1.4625,"v":2.43},{"x":0.0405,"y":1.4625,"v":2.44},{"x":0.0415,"y":1.4625,"v":2.44},{"x":0.0425,"y":1.4625,"v":2.44},{"x":0.0435,"y":1.4625,"v":2.45},{"x":0.0445,"y":1.4625,"v":2.45},{"x":0.0455,"y":1.4625,"v":2.46},{"x":0.0465,"y":1.4625,"v":2.46},{"x":0.0475,"y":1.4625,"v":2.47},{"x":0.0485,"y":1.4625,"v":2.47},{"x":0.0495,"y":1.4625,"v":2.48},{"x":0.0505,"y":1.4625,"v":2.49},{"x":0.0515,"y":1.4625,"v":2.49},{"x":0.0525,"y":1.4625,"v":2.50},{"x":0.0535,"y":1.4625,"v":2.51},{"x":0.0545,"y":1.4625,"v":2.52},{"x":0.0555,"y":1.4625,"v":2.53},{"x":0.0565,"y":1.4625,"v":2.54},{"x":0.0575,"y":1.4625,"v":2.55},{"x":0.0585,"y":1.4625,"v":2.56},{"x":0.0595,"y":1.4625,"v":2.57},{"x":0.0605,"y":1.4625,"v":2.58},{"x":0.0615,"y":1.4625,"v":2.59},{"x":0.0625,"y":1.4625,"v":2.60},{"x":0.0635,"y":1.4625,"v":2.62},{"x":0.0645,"y":1.4625,"v":2.63},{"x":0.0655,"y":1.4625,"v":2.64},{"x":0.0665,"y":1.4625,"v":2.66},{"x":0.0675,"y":1.4625,"v":2.67},{"x":0.0685,"y":1.4625,"v":2.68},{"x":0.0695,"y":1.4625,"v":2.70},
{"x":0.0305,"y":1.4875,"v":2.40},{"x":0.0315,"y":1.4875,"v":2.40},{"x":0.0325,"y":1.4875,"v":2.40},{"x":0.0335,"y":1.4875,"v":2.40},{"x":0.0345,"y":1.4875,"v":2.40},{"x":0.0355,"y":1.4875,"v":2.40},{"x":0.0365,"y":1.4875,"v":2.40},{"x":0.0375,"y":1.4875,"v":2.40},{"x":0.0385,"y":1.4875,"v":2.40},{"x":0.0395,"y":1.4875,"v":2.40},{"x":0.0405,"y":1.4875,"v":2.40},{"x":0.0415,"y":1.4875,"v":2.41},{"x":0.0425,"y":1.4875,"v":2.41},{"x":0.0435,"y":1.4875,"v":2.41},{"x":0.0445,"y":1.4875,"v":2.42},{"x":0.0455,"y":1.4875,"v":2.42},{"x":0.0465,"y":1.4875,"v":2.43},{"x":0.0475,"y":1.4875,"v":2.43},{"x":0.0485,"y":1.4875,"v":2.44},{"x":0.0495,"y":1.4875,"v":2.44},{"x":0.0505,"y":1.4875,"v":2.45},{"x":0.0515,"y":1.4875,"v":2.46},{"x":0.0525,"y":1.4875,"v":2.46},{"x":0.0535,"y":1.4875,"v":2.47},{"x":0.0545,"y":1.4875,"v":2.48},{"x":0.0555,"y":1.4875,"v":2.49},{"x":0.0565,"y":1.4875,"v":2.50},{"x":0.0575,"y":1.4875,"v":2.51},{"x":0.0585,"y":1.4875,"v":2.52},{"x":0.0595,"y":1.4875,"v":2.53},{"x":0.0605,"y":1.4875,"v":2.54},{"x":0.0615,"y":1.4875,"v":2.55},{"x":0.0625,"y":1.4875,"v":2.56},{"x":0.0635,"y":1.4875,"v":2.57},{"x":0.0645,"y":1.4875,"v":2.58},{"x":0.0655,"y":1.4875,"v":2.60},{"x":0.0665,"y":1.4875,"v":2.61},{"x":0.0675,"y":1.4875,"v":2.62},{"x":0.0685,"y":1.4875,"v":2.64},{"x":0.0695,"y":1.4875,"v":2.65}
    ],
    "contours": [
      {"level":"2.6581","o":1,"x":0.0300,"y":1.2305},{"level":"2.6581","o":2,"x":0.0332,"y":1.243},{"level":"2.6581","o":3,"x":0.0373,"y":1.266},{"level":"2.6581","o":4,"x":0.0413,"y":1.293},{"level":"2.6581","o":5,"x":0.0452,"y":1.321},{"level":"2.6581","o":6,"x":0.0490,"y":1.351},{"level":"2.6581","o":7,"x":0.0529,"y":1.379},{"level":"2.6581","o":8,"x":0.0572,"y":1.412},{"level":"2.6581","o":9,"x":0.0613,"y":1.445},{"level":"2.6581","o":10,"x":0.0652,"y":1.475},{"level":"2.6581","o":11,"x":0.0682,"y":1.5},
      {"level":"2.9173","o":1,"x":0.0300,"y":0.7695},{"level":"2.9173","o":2,"x":0.0332,"y":0.835},{"level":"2.9173","o":3,"x":0.0373,"y":0.9005},{"level":"2.9173","o":4,"x":0.0413,"y":0.9635},{"level":"2.9173","o":5,"x":0.0449,"y":1.029},{"level":"2.9173","o":6,"x":0.0472,"y":1.0768},{"level":"2.9173","o":7,"x":0.0488,"y":1.107},{"level":"2.9173","o":8,"x":0.0508,"y":1.132},{"level":"2.9173","o":9,"x":0.0538,"y":1.170},{"level":"2.9173","o":10,"x":0.0572,"y":1.2103},{"level":"2.9173","o":11,"x":0.0632,"y":1.2859},{"level":"2.9173","o":12,"x":0.0664,"y":1.3237},{"level":"2.9173","o":13,"x":0.0700,"y":1.3665},
      {"level":"3.1765","o":1,"x":0.0421,"y":0.5},{"level":"3.1765","o":2,"x":0.0433,"y":0.5806},{"level":"3.1765","o":3,"x":0.0452,"y":0.6763},{"level":"3.1765","o":4,"x":0.0472,"y":0.7569},{"level":"3.1765","o":5,"x":0.0493,"y":0.8249},{"level":"3.1765","o":6,"x":0.0514,"y":0.8829},{"level":"3.1765","o":7,"x":0.0532,"y":0.9156},{"level":"3.1765","o":8,"x":0.0553,"y":0.9408},{"level":"3.1765","o":9,"x":0.0580,"y":0.9912},{"level":"3.1765","o":10,"x":0.0614,"y":1.0592},{"level":"3.1765","o":11,"x":0.0628,"y":1.0869},{"level":"3.1765","o":12,"x":0.0664,"y":1.1448},{"level":"3.1765","o":13,"x":0.0700,"y":1.1977},
      {"level":"3.43569","o":1,"x":0.0530,"y":0.5},{"level":"3.43569","o":2,"x":0.0542,"y":0.568},{"level":"3.43569","o":3,"x":0.0556,"y":0.6385},{"level":"3.43569","o":4,"x":0.0572,"y":0.7065},{"level":"3.43569","o":5,"x":0.0586,"y":0.7569},{"level":"3.43569","o":6,"x":0.0601,"y":0.7897},{"level":"3.43569","o":7,"x":0.0616,"y":0.8199},{"level":"3.43569","o":8,"x":0.0632,"y":0.8451},{"level":"3.43569","o":9,"x":0.0652,"y":0.8879},{"level":"3.43569","o":10,"x":0.0672,"y":0.9358},{"level":"3.43569","o":11,"x":0.0700,"y":1.0088},
      {"level":"3.69489","o":1,"x":0.0622,"y":0.5},{"level":"3.69489","o":2,"x":0.0634,"y":0.5479},{"level":"3.69489","o":3,"x":0.0646,"y":0.6008},{"level":"3.69489","o":4,"x":0.0654,"y":0.6436},{"level":"3.69489","o":5,"x":0.0660,"y":0.6763},{"level":"3.69489","o":6,"x":0.0674,"y":0.7116},{"level":"3.69489","o":7,"x":0.0688,"y":0.7469},{"level":"3.69489","o":8,"x":0.0700,"y":0.7846}
    ],
    "labels": [
      {"x":0.0510,"y":1.3665,"t":"2.6581"},
      {"x":0.0488,"y":1.1146,"t":"2.9173"},
      {"x":0.0532,"y":0.9156,"t":"3.1765"},
      {"x":0.0601,"y":0.7897,"t":"3.43569"},
      {"x":0.0660,"y":0.6763,"t":"3.69489"}
    ],
    "points": [
      {"x":0.05,"y":1.0,"kind":"Design Points","run":"6"}
    ]
  },
  "layer": [
    {
      "data": {"name": "grid"},
      "mark": {"type": "rect", "width": 8.7, "height": 10.3, "clip": true},
      "encoding": {
        "x": {
          "field": "x", "type": "quantitative",
          "scale": {"domain": [0.03, 0.07], "nice": false, "zero": false},
          "axis": {"values": [0.03, 0.04, 0.05, 0.06, 0.07], "format": ".2f", "title": "B: Feed Rate", "titleFontSize": 13, "tickSize": 5, "labelPadding": 13, "titlePadding": 38}
        },
        "y": {
          "field": "y", "type": "quantitative",
          "scale": {"domain": [0.5, 1.5], "nice": false, "zero": false},
          "axis": {"values": [0.5, 0.75, 1.0, 1.25, 1.5], "format": ".2f", "title": "C: Depth Of Cut", "titleFontSize": 16, "tickSize": 8, "labelPadding": 3, "titlePadding": 31}
        },
        "color": {
          "field": "v", "type": "quantitative",
          "scale": {"domain": [1.337, 2.0703, 2.8035, 3.5368, 4.27], "range": ["#0000ff", "#00ffff", "#00f000", "#ffff00", "#ff0000"], "interpolate": "rgb"},
          "legend": {
            "orient": "none", "legendX": -238, "legendY": 49,
            "direction": "vertical", "gradientLength": 53, "gradientThickness": 8, "gradientStrokeWidth": 0,
            "values": [1.337, 4.27], "labelExpr": "datum.value + ''", "labelOverlap": false,
            "labelFontSize": 11.5, "labelOffset": 6,
            "title": ["X1 = B: Feed Rate", "X2 = C: Depth Of Cut", "\u2800", "Actual Factor", "A: Spindle Speed = 1250.00"],
            "titleOrient": "bottom", "titleAnchor": "start", "titleAlign": "left",
            "titleFontSize": 11.5, "titleFontWeight": "normal", "titleColor": "#333333", "titleLineHeight": 18.5, "titlePadding": 39,
            "encode": {"labels": {"update": {"fill": {"signal": "datum.value > 3 ? '#e0262a' : '#3535d8'"}}}}
          }
        }
      }
    },
    {
      "data": {"name": "contours"},
      "mark": {"type": "line", "color": "#2b2b2b", "strokeWidth": 1, "opacity": 0.85, "interpolate": "monotone"},
      "encoding": {
        "x": {"field": "x", "type": "quantitative"},
        "y": {"field": "y", "type": "quantitative"},
        "detail": {"field": "level"},
        "order": {"field": "o"}
      }
    },
    {
      "data": {"name": "labels"},
      "mark": {"type": "point", "shape": "M-1,-0.3H1V0.3H-1Z", "size": 1156, "filled": true, "fill": "white", "stroke": "#555555", "strokeWidth": 0.8, "opacity": 1},
      "encoding": {
        "x": {"field": "x", "type": "quantitative"},
        "y": {"field": "y", "type": "quantitative"}
      }
    },
    {
      "data": {"name": "labels"},
      "mark": {"type": "text", "fontSize": 7, "font": "Liberation Sans", "color": "#333333", "baseline": "middle", "align": "center"},
      "encoding": {
        "x": {"field": "x", "type": "quantitative"},
        "y": {"field": "y", "type": "quantitative"},
        "text": {"field": "t"}
      }
    },
    {
      "data": {"name": "points"},
      "mark": {"type": "point", "shape": "circle", "size": 40, "filled": true, "opacity": 1, "strokeWidth": 0},
      "encoding": {
        "x": {"field": "x", "type": "quantitative"},
        "y": {"field": "y", "type": "quantitative"},
        "fill": {
          "field": "kind", "type": "nominal",
          "scale": {"domain": ["Design Points"], "range": ["#c8211f"]},
          "legend": {
            "orient": "none", "legendX": -239, "legendY": -23,
            "title": ["Design-Expert® Software", "\u2800", "SR"],
            "titleFontSize": 11.5, "titleFontWeight": "normal", "titleColor": "#333333", "titleLineHeight": 19, "titlePadding": 6,
            "labelFontSize": 11.5, "labelColor": "#e0262a", "labelOffset": 4,
            "symbolType": "circle", "symbolSize": 40, "symbolStrokeWidth": 0
          }
        }
      }
    },
    {
      "data": {"name": "points"},
      "mark": {"type": "text", "fontSize": 8, "font": "Liberation Sans", "color": "#1f4f1f", "dx": -8, "baseline": "middle", "align": "center"},
      "encoding": {
        "x": {"field": "x", "type": "quantitative"},
        "y": {"field": "y", "type": "quantitative"},
        "text": {"field": "run"}
      }
    }
  ]
}
